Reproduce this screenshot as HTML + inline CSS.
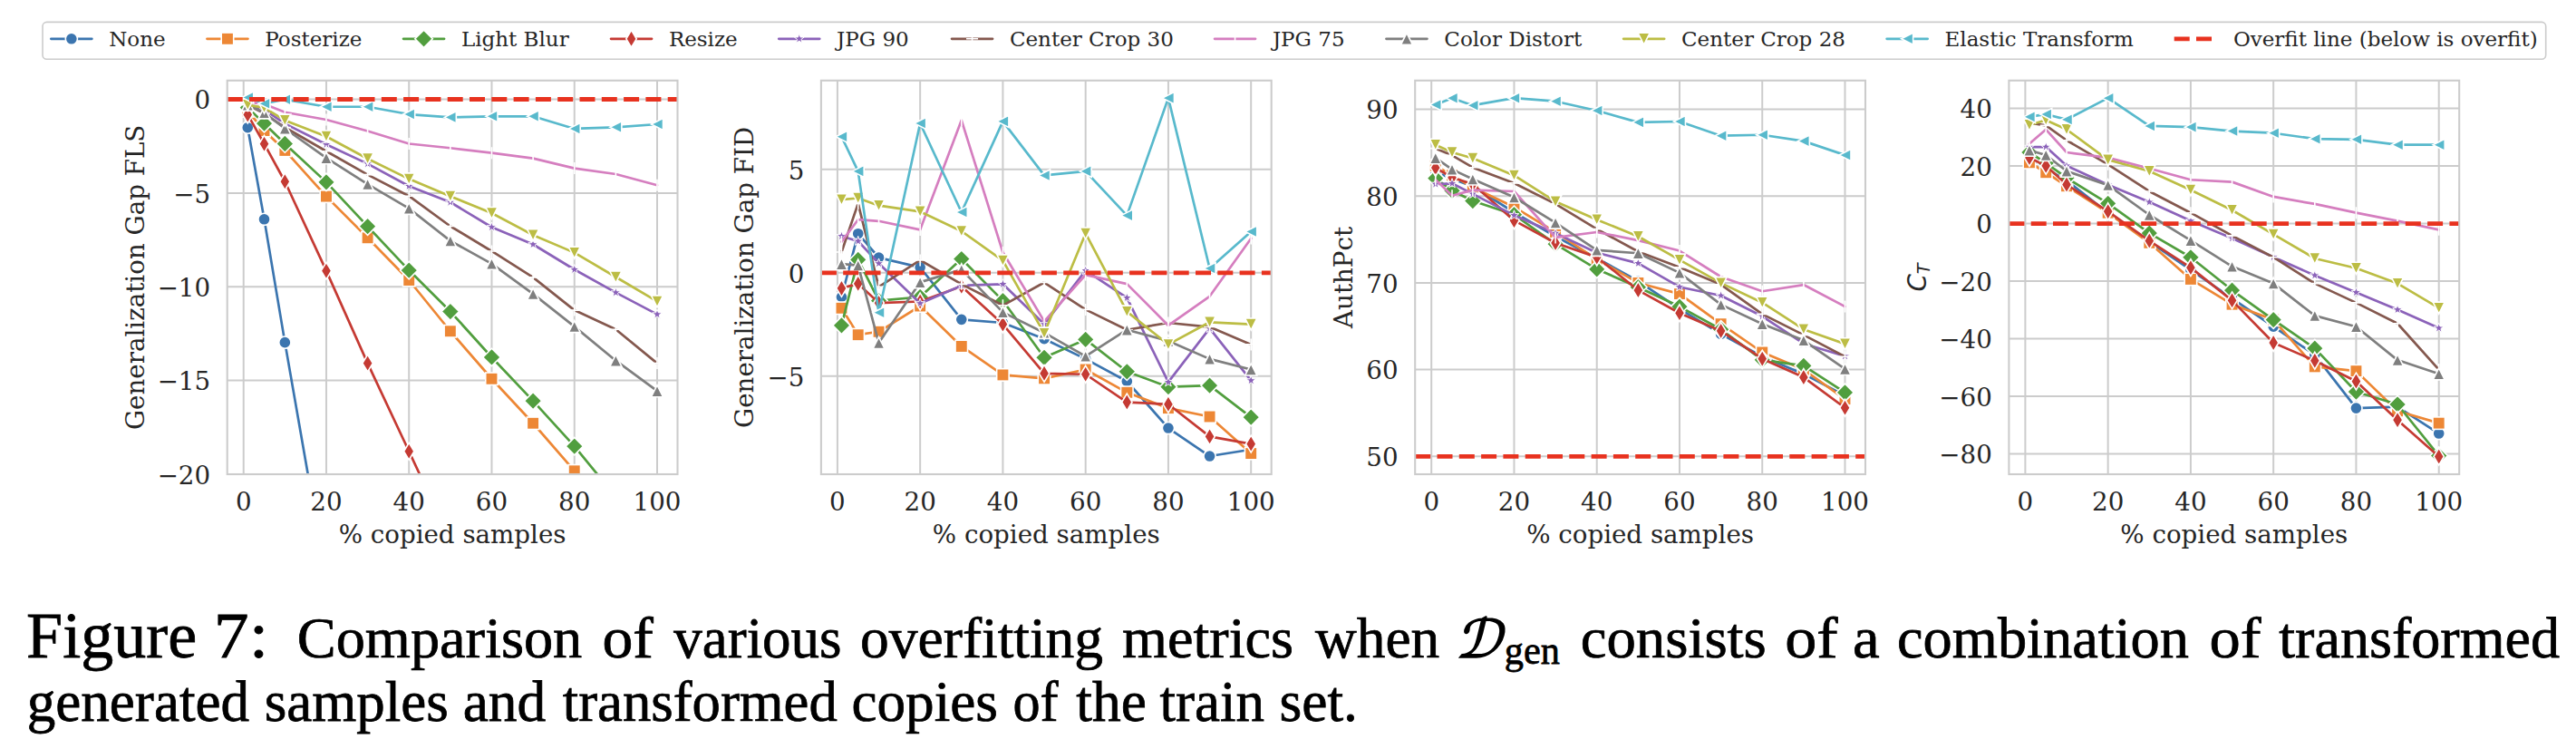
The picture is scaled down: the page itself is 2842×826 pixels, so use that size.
<!DOCTYPE html>
<html><head><meta charset="utf-8"><title>Figure 7</title>
<style>
html,body{margin:0;padding:0;background:#fff;}
body{width:2842px;height:826px;position:relative;overflow:hidden;}
</style></head>
<body>
<svg width="2842" height="826" viewBox="0 0 2842 826" style="position:absolute;left:0;top:0">
<defs>
<clipPath id="c1"><rect x="250.7" y="88.8" width="496.8" height="434.2"/></clipPath>
<clipPath id="c2"><rect x="905.9" y="88.8" width="496.8" height="434.2"/></clipPath>
<clipPath id="c3"><rect x="1561.2" y="88.8" width="496.8" height="434.2"/></clipPath>
<clipPath id="c4"><rect x="2216.4" y="88.8" width="496.8" height="434.2"/></clipPath>
</defs>
<g font-family="DejaVu Serif, serif" fill="#262626">
<path d="M268.7 88.8V523.0M359.96 88.8V523.0M451.22 88.8V523.0M542.48 88.8V523.0M633.74 88.8V523.0M725 88.8V523.0M250.7 109.5H747.5M250.7 212.88H747.5M250.7 316.25H747.5M250.7 419.62H747.5M250.7 523H747.5" stroke="#cccccc" stroke-width="2" fill="none"/>
<g clip-path="url(#c1)">
<polyline points="273.26,140.72 291.51,241.82 314.33,377.65 359.96,638.78 405.59,895.15 451.22,1143.25 496.85,1391.35 542.48,1639.45 588.11,1887.55 633.74,2135.65 679.37,2383.75 725,2631.85" fill="none" stroke="#3b75af" stroke-width="2.7" stroke-linejoin="round" stroke-linecap="round"/>
<circle cx="273.26" cy="140.72" r="6.6" fill="#3b75af" stroke="#fff" stroke-width="1.6"/>
<circle cx="291.51" cy="241.82" r="6.6" fill="#3b75af" stroke="#fff" stroke-width="1.6"/>
<circle cx="314.33" cy="377.65" r="6.6" fill="#3b75af" stroke="#fff" stroke-width="1.6"/>
<polyline points="273.26,122.32 291.51,144.03 314.33,165.94 359.96,216.6 405.59,262.29 451.22,309.01 496.85,365.25 542.48,417.76 588.11,466.76 633.74,519.28 679.37,570.55 725,620.17" fill="none" stroke="#ed8735" stroke-width="2.7" stroke-linejoin="round" stroke-linecap="round"/>
<rect x="266.51" y="115.57" width="13.5" height="13.5" fill="#ed8735" stroke="#fff" stroke-width="1.6"/>
<rect x="284.76" y="137.28" width="13.5" height="13.5" fill="#ed8735" stroke="#fff" stroke-width="1.6"/>
<rect x="307.58" y="159.19" width="13.5" height="13.5" fill="#ed8735" stroke="#fff" stroke-width="1.6"/>
<rect x="353.21" y="209.85" width="13.5" height="13.5" fill="#ed8735" stroke="#fff" stroke-width="1.6"/>
<rect x="398.84" y="255.54" width="13.5" height="13.5" fill="#ed8735" stroke="#fff" stroke-width="1.6"/>
<rect x="444.47" y="302.26" width="13.5" height="13.5" fill="#ed8735" stroke="#fff" stroke-width="1.6"/>
<rect x="490.1" y="358.5" width="13.5" height="13.5" fill="#ed8735" stroke="#fff" stroke-width="1.6"/>
<rect x="535.73" y="411.01" width="13.5" height="13.5" fill="#ed8735" stroke="#fff" stroke-width="1.6"/>
<rect x="581.36" y="460.01" width="13.5" height="13.5" fill="#ed8735" stroke="#fff" stroke-width="1.6"/>
<rect x="626.99" y="512.53" width="13.5" height="13.5" fill="#ed8735" stroke="#fff" stroke-width="1.6"/>
<polyline points="273.26,118.6 291.51,136.17 314.33,158.5 359.96,200.88 405.59,249.68 451.22,298.06 496.85,343.54 542.48,393.99 588.11,442.16 633.74,492.19 679.37,547.81 725,603.63" fill="none" stroke="#519e3e" stroke-width="2.7" stroke-linejoin="round" stroke-linecap="round"/>
<polygon points="273.26,108.9 282.96,118.6 273.26,128.3 263.56,118.6" fill="#519e3e" stroke="#fff" stroke-width="1.6"/>
<polygon points="291.51,126.47 301.21,136.17 291.51,145.87 281.81,136.17" fill="#519e3e" stroke="#fff" stroke-width="1.6"/>
<polygon points="314.33,148.8 324.03,158.5 314.33,168.2 304.63,158.5" fill="#519e3e" stroke="#fff" stroke-width="1.6"/>
<polygon points="359.96,191.18 369.66,200.88 359.96,210.58 350.26,200.88" fill="#519e3e" stroke="#fff" stroke-width="1.6"/>
<polygon points="405.59,239.98 415.29,249.68 405.59,259.38 395.89,249.68" fill="#519e3e" stroke="#fff" stroke-width="1.6"/>
<polygon points="451.22,288.36 460.92,298.06 451.22,307.76 441.52,298.06" fill="#519e3e" stroke="#fff" stroke-width="1.6"/>
<polygon points="496.85,333.84 506.55,343.54 496.85,353.24 487.15,343.54" fill="#519e3e" stroke="#fff" stroke-width="1.6"/>
<polygon points="542.48,384.29 552.18,393.99 542.48,403.69 532.78,393.99" fill="#519e3e" stroke="#fff" stroke-width="1.6"/>
<polygon points="588.11,432.46 597.81,442.16 588.11,451.86 578.41,442.16" fill="#519e3e" stroke="#fff" stroke-width="1.6"/>
<polygon points="633.74,482.49 643.44,492.19 633.74,501.89 624.04,492.19" fill="#519e3e" stroke="#fff" stroke-width="1.6"/>
<polyline points="273.26,126.45 291.51,158.71 314.33,200.26 359.96,298.68 405.59,400.6 451.22,497.78 496.85,595.36 542.48,692.53 588.11,791.77 633.74,888.95 679.37,988.19 725,1085.36" fill="none" stroke="#c53a33" stroke-width="2.7" stroke-linejoin="round" stroke-linecap="round"/>
<polygon points="273.26,117.05 278.96,126.45 273.26,135.85 267.56,126.45" fill="#c53a33" stroke="#fff" stroke-width="1.6"/>
<polygon points="291.51,149.31 297.21,158.71 291.51,168.11 285.81,158.71" fill="#c53a33" stroke="#fff" stroke-width="1.6"/>
<polygon points="314.33,190.86 320.03,200.26 314.33,209.66 308.63,200.26" fill="#c53a33" stroke="#fff" stroke-width="1.6"/>
<polygon points="359.96,289.28 365.66,298.68 359.96,308.08 354.26,298.68" fill="#c53a33" stroke="#fff" stroke-width="1.6"/>
<polygon points="405.59,391.2 411.29,400.6 405.59,410 399.89,400.6" fill="#c53a33" stroke="#fff" stroke-width="1.6"/>
<polygon points="451.22,488.38 456.92,497.78 451.22,507.18 445.52,497.78" fill="#c53a33" stroke="#fff" stroke-width="1.6"/>
<polyline points="273.26,114.67 291.51,120.87 314.33,136.38 359.96,159.33 405.59,180.62 451.22,205.23 496.85,223.01 542.48,250.5 588.11,269.52 633.74,297.23 679.37,322.66 725,346.64" fill="none" stroke="#8b62b9" stroke-width="2.7" stroke-linejoin="round" stroke-linecap="round"/>
<polygon points="273.26,109.07 274.61,112.81 278.59,112.94 275.45,115.38 276.55,119.2 273.26,116.97 269.97,119.2 271.08,115.38 267.94,112.94 271.91,112.81" fill="#8b62b9" stroke="#fff" stroke-width="1.0"/>
<polygon points="291.51,115.27 292.87,119.01 296.84,119.14 293.7,121.58 294.81,125.4 291.51,123.17 288.22,125.4 289.33,121.58 286.19,119.14 290.16,119.01" fill="#8b62b9" stroke="#fff" stroke-width="1.0"/>
<polygon points="314.33,130.78 315.68,134.52 319.66,134.65 316.52,137.09 317.62,140.91 314.33,138.68 311.04,140.91 312.14,137.09 309,134.65 312.98,134.52" fill="#8b62b9" stroke="#fff" stroke-width="1.0"/>
<polygon points="359.96,153.73 361.31,157.47 365.29,157.6 362.15,160.04 363.25,163.86 359.96,161.63 356.67,163.86 357.77,160.04 354.63,157.6 358.61,157.47" fill="#8b62b9" stroke="#fff" stroke-width="1.0"/>
<polygon points="405.59,175.02 406.94,178.76 410.92,178.89 407.78,181.33 408.88,185.15 405.59,182.92 402.3,185.15 403.4,181.33 400.26,178.89 404.24,178.76" fill="#8b62b9" stroke="#fff" stroke-width="1.0"/>
<polygon points="451.22,199.63 452.57,203.36 456.55,203.49 453.41,205.94 454.51,209.76 451.22,207.53 447.93,209.76 449.03,205.94 445.89,203.49 449.87,203.36" fill="#8b62b9" stroke="#fff" stroke-width="1.0"/>
<polygon points="496.85,217.41 498.2,221.15 502.18,221.28 499.04,223.72 500.14,227.54 496.85,225.31 493.56,227.54 494.66,223.72 491.52,221.28 495.5,221.15" fill="#8b62b9" stroke="#fff" stroke-width="1.0"/>
<polygon points="542.48,244.9 543.83,248.64 547.81,248.77 544.67,251.21 545.77,255.03 542.48,252.8 539.19,255.03 540.29,251.21 537.15,248.77 541.13,248.64" fill="#8b62b9" stroke="#fff" stroke-width="1.0"/>
<polygon points="588.11,263.92 589.46,267.66 593.44,267.79 590.3,270.24 591.4,274.05 588.11,271.82 584.82,274.05 585.92,270.24 582.78,267.79 586.76,267.66" fill="#8b62b9" stroke="#fff" stroke-width="1.0"/>
<polygon points="633.74,291.63 635.09,295.37 639.07,295.5 635.93,297.94 637.03,301.76 633.74,299.53 630.45,301.76 631.55,297.94 628.41,295.5 632.39,295.37" fill="#8b62b9" stroke="#fff" stroke-width="1.0"/>
<polygon points="679.37,317.06 680.72,320.8 684.7,320.93 681.56,323.37 682.66,327.19 679.37,324.96 676.08,327.19 677.18,323.37 674.04,320.93 678.02,320.8" fill="#8b62b9" stroke="#fff" stroke-width="1.0"/>
<polygon points="725,341.04 726.35,344.78 730.33,344.91 727.19,347.35 728.29,351.17 725,348.94 721.71,351.17 722.81,347.35 719.67,344.91 723.65,344.78" fill="#8b62b9" stroke="#fff" stroke-width="1.0"/>
<polyline points="273.26,115.7 291.51,125.01 314.33,140.51 359.96,166.77 405.59,192.61 451.22,216.18 496.85,249.47 542.48,276.97 588.11,305.91 633.74,342.09 679.37,363.18 725,400.6" fill="none" stroke="#84584e" stroke-width="2.7" stroke-linejoin="round" stroke-linecap="round"/>
<path d="M266.76 115.7H279.76M273.26 109.2V122.2" stroke="#fff" stroke-width="1.6" fill="none"/>
<path d="M285.01 125.01H298.01M291.51 118.51V131.51" stroke="#fff" stroke-width="1.6" fill="none"/>
<path d="M307.83 140.51H320.83M314.33 134.01V147.01" stroke="#fff" stroke-width="1.6" fill="none"/>
<path d="M353.46 166.77H366.46M359.96 160.27V173.27" stroke="#fff" stroke-width="1.6" fill="none"/>
<path d="M399.09 192.61H412.09M405.59 186.11V199.11" stroke="#fff" stroke-width="1.6" fill="none"/>
<path d="M444.72 216.18H457.72M451.22 209.68V222.68" stroke="#fff" stroke-width="1.6" fill="none"/>
<path d="M490.35 249.47H503.35M496.85 242.97V255.97" stroke="#fff" stroke-width="1.6" fill="none"/>
<path d="M535.98 276.97H548.98M542.48 270.47V283.47" stroke="#fff" stroke-width="1.6" fill="none"/>
<path d="M581.61 305.91H594.61M588.11 299.41V312.41" stroke="#fff" stroke-width="1.6" fill="none"/>
<path d="M627.24 342.09H640.24M633.74 335.59V348.59" stroke="#fff" stroke-width="1.6" fill="none"/>
<path d="M672.87 363.18H685.87M679.37 356.68V369.68" stroke="#fff" stroke-width="1.6" fill="none"/>
<path d="M718.5 400.6H731.5M725 394.1V407.1" stroke="#fff" stroke-width="1.6" fill="none"/>
<polyline points="273.26,112.6 291.51,114.67 314.33,123.77 359.96,132.04 405.59,144.44 451.22,158.5 496.85,163.25 542.48,168.63 588.11,174.63 633.74,185.58 679.37,191.99 725,204.19" fill="none" stroke="#d57ebf" stroke-width="2.7" stroke-linejoin="round" stroke-linecap="round"/>
<path d="M273.26 106.1V119.1" stroke="#fff" stroke-width="1.6" fill="none"/>
<path d="M291.51 108.17V121.17" stroke="#fff" stroke-width="1.6" fill="none"/>
<path d="M314.33 117.27V130.27" stroke="#fff" stroke-width="1.6" fill="none"/>
<path d="M359.96 125.54V138.54" stroke="#fff" stroke-width="1.6" fill="none"/>
<path d="M405.59 137.94V150.94" stroke="#fff" stroke-width="1.6" fill="none"/>
<path d="M451.22 152V165" stroke="#fff" stroke-width="1.6" fill="none"/>
<path d="M496.85 156.75V169.75" stroke="#fff" stroke-width="1.6" fill="none"/>
<path d="M542.48 162.13V175.13" stroke="#fff" stroke-width="1.6" fill="none"/>
<path d="M588.11 168.13V181.13" stroke="#fff" stroke-width="1.6" fill="none"/>
<path d="M633.74 179.08V192.08" stroke="#fff" stroke-width="1.6" fill="none"/>
<path d="M679.37 185.49V198.49" stroke="#fff" stroke-width="1.6" fill="none"/>
<path d="M725 197.69V210.69" stroke="#fff" stroke-width="1.6" fill="none"/>
<polyline points="273.26,115.7 291.51,124.39 314.33,141.75 359.96,174.21 405.59,203.16 451.22,229.83 496.85,265.6 542.48,290.82 588.11,324.11 633.74,360.08 679.37,397.71 725,431.2" fill="none" stroke="#7f7f7f" stroke-width="2.7" stroke-linejoin="round" stroke-linecap="round"/>
<polygon points="273.26,109.2 279.76,122.2 266.76,122.2" fill="#7f7f7f" stroke="#fff" stroke-width="1.6"/>
<polygon points="291.51,117.89 298.01,130.89 285.01,130.89" fill="#7f7f7f" stroke="#fff" stroke-width="1.6"/>
<polygon points="314.33,135.25 320.83,148.25 307.83,148.25" fill="#7f7f7f" stroke="#fff" stroke-width="1.6"/>
<polygon points="359.96,167.71 366.46,180.71 353.46,180.71" fill="#7f7f7f" stroke="#fff" stroke-width="1.6"/>
<polygon points="405.59,196.66 412.09,209.66 399.09,209.66" fill="#7f7f7f" stroke="#fff" stroke-width="1.6"/>
<polygon points="451.22,223.33 457.72,236.33 444.72,236.33" fill="#7f7f7f" stroke="#fff" stroke-width="1.6"/>
<polygon points="496.85,259.1 503.35,272.1 490.35,272.1" fill="#7f7f7f" stroke="#fff" stroke-width="1.6"/>
<polygon points="542.48,284.32 548.98,297.32 535.98,297.32" fill="#7f7f7f" stroke="#fff" stroke-width="1.6"/>
<polygon points="588.11,317.61 594.61,330.61 581.61,330.61" fill="#7f7f7f" stroke="#fff" stroke-width="1.6"/>
<polygon points="633.74,353.58 640.24,366.58 627.24,366.58" fill="#7f7f7f" stroke="#fff" stroke-width="1.6"/>
<polygon points="679.37,391.21 685.87,404.21 672.87,404.21" fill="#7f7f7f" stroke="#fff" stroke-width="1.6"/>
<polygon points="725,424.7 731.5,437.7 718.5,437.7" fill="#7f7f7f" stroke="#fff" stroke-width="1.6"/>
<polyline points="273.26,115.7 291.51,118.8 314.33,132.66 359.96,150.44 405.59,175.04 451.22,197.37 496.85,216.39 542.48,235 588.11,259.19 633.74,278.62 679.37,305.5 725,332.38" fill="none" stroke="#bcbd44" stroke-width="2.7" stroke-linejoin="round" stroke-linecap="round"/>
<polygon points="273.26,122.2 279.76,109.2 266.76,109.2" fill="#bcbd44" stroke="#fff" stroke-width="1.6"/>
<polygon points="291.51,125.3 298.01,112.3 285.01,112.3" fill="#bcbd44" stroke="#fff" stroke-width="1.6"/>
<polygon points="314.33,139.16 320.83,126.16 307.83,126.16" fill="#bcbd44" stroke="#fff" stroke-width="1.6"/>
<polygon points="359.96,156.94 366.46,143.94 353.46,143.94" fill="#bcbd44" stroke="#fff" stroke-width="1.6"/>
<polygon points="405.59,181.54 412.09,168.54 399.09,168.54" fill="#bcbd44" stroke="#fff" stroke-width="1.6"/>
<polygon points="451.22,203.87 457.72,190.87 444.72,190.87" fill="#bcbd44" stroke="#fff" stroke-width="1.6"/>
<polygon points="496.85,222.89 503.35,209.89 490.35,209.89" fill="#bcbd44" stroke="#fff" stroke-width="1.6"/>
<polygon points="542.48,241.5 548.98,228.5 535.98,228.5" fill="#bcbd44" stroke="#fff" stroke-width="1.6"/>
<polygon points="588.11,265.69 594.61,252.69 581.61,252.69" fill="#bcbd44" stroke="#fff" stroke-width="1.6"/>
<polygon points="633.74,285.12 640.24,272.12 627.24,272.12" fill="#bcbd44" stroke="#fff" stroke-width="1.6"/>
<polygon points="679.37,312 685.87,299 672.87,299" fill="#bcbd44" stroke="#fff" stroke-width="1.6"/>
<polygon points="725,338.88 731.5,325.88 718.5,325.88" fill="#bcbd44" stroke="#fff" stroke-width="1.6"/>
<polyline points="273.26,107.43 291.51,114.26 314.33,109.71 359.96,117.77 405.59,117.77 451.22,126.04 496.85,129.35 542.48,128.31 588.11,128.31 633.74,141.96 679.37,140.31 725,137" fill="none" stroke="#58b9cc" stroke-width="2.7" stroke-linejoin="round" stroke-linecap="round"/>
<polygon points="266.76,107.43 279.76,100.93 279.76,113.93" fill="#58b9cc" stroke="#fff" stroke-width="1.6"/>
<polygon points="285.01,114.26 298.01,107.76 298.01,120.76" fill="#58b9cc" stroke="#fff" stroke-width="1.6"/>
<polygon points="307.83,109.71 320.83,103.21 320.83,116.21" fill="#58b9cc" stroke="#fff" stroke-width="1.6"/>
<polygon points="353.46,117.77 366.46,111.27 366.46,124.27" fill="#58b9cc" stroke="#fff" stroke-width="1.6"/>
<polygon points="399.09,117.77 412.09,111.27 412.09,124.27" fill="#58b9cc" stroke="#fff" stroke-width="1.6"/>
<polygon points="444.72,126.04 457.72,119.54 457.72,132.54" fill="#58b9cc" stroke="#fff" stroke-width="1.6"/>
<polygon points="490.35,129.35 503.35,122.85 503.35,135.85" fill="#58b9cc" stroke="#fff" stroke-width="1.6"/>
<polygon points="535.98,128.31 548.98,121.81 548.98,134.81" fill="#58b9cc" stroke="#fff" stroke-width="1.6"/>
<polygon points="581.61,128.31 594.61,121.81 594.61,134.81" fill="#58b9cc" stroke="#fff" stroke-width="1.6"/>
<polygon points="627.24,141.96 640.24,135.46 640.24,148.46" fill="#58b9cc" stroke="#fff" stroke-width="1.6"/>
<polygon points="672.87,140.31 685.87,133.81 685.87,146.81" fill="#58b9cc" stroke="#fff" stroke-width="1.6"/>
<polygon points="718.5,137 731.5,130.5 731.5,143.5" fill="#58b9cc" stroke="#fff" stroke-width="1.6"/>
<path d="M250.7 109.5H747.5" stroke="#e8321f" stroke-width="4.8" stroke-dasharray="17 7.3" fill="none"/>
</g>
<rect x="250.7" y="88.8" width="496.8" height="434.2" fill="none" stroke="#cccccc" stroke-width="2.1"/>
<text x="232.1" y="120.3" font-size="27.7" text-anchor="end">0</text>
<text x="232.1" y="223.68" font-size="27.7" text-anchor="end">−5</text>
<text x="232.1" y="327.05" font-size="27.7" text-anchor="end">−10</text>
<text x="232.1" y="430.43" font-size="27.7" text-anchor="end">−15</text>
<text x="232.1" y="533.8" font-size="27.7" text-anchor="end">−20</text>
<text x="268.7" y="563" font-size="27.7" text-anchor="middle">0</text>
<text x="359.96" y="563" font-size="27.7" text-anchor="middle">20</text>
<text x="451.22" y="563" font-size="27.7" text-anchor="middle">40</text>
<text x="542.48" y="563" font-size="27.7" text-anchor="middle">60</text>
<text x="633.74" y="563" font-size="27.7" text-anchor="middle">80</text>
<text x="725" y="563" font-size="27.7" text-anchor="middle">100</text>
<text x="499.1" y="599.1" font-size="27.7" text-anchor="middle">% copied samples</text>
<text transform="translate(158.5 305.9) rotate(-90)" font-size="27.7" text-anchor="middle">Generalization Gap FLS</text>
<path d="M923.9 88.8V523.0M1015.16 88.8V523.0M1106.42 88.8V523.0M1197.68 88.8V523.0M1288.94 88.8V523.0M1380.2 88.8V523.0M905.9 186.8H1402.7M905.9 300.8H1402.7M905.9 414.8H1402.7" stroke="#cccccc" stroke-width="2" fill="none"/>
<g clip-path="url(#c2)">
<polyline points="928.46,327.48 946.71,257.71 969.53,284.16 1015.16,294.87 1060.79,352.33 1106.42,355.98 1152.05,373.76 1197.68,395.88 1243.31,420.5 1288.94,472.03 1334.57,503.04 1380.2,495.74" fill="none" stroke="#3b75af" stroke-width="2.7" stroke-linejoin="round" stroke-linecap="round"/>
<circle cx="928.46" cy="327.48" r="6.6" fill="#3b75af" stroke="#fff" stroke-width="1.6"/>
<circle cx="946.71" cy="257.71" r="6.6" fill="#3b75af" stroke="#fff" stroke-width="1.6"/>
<circle cx="969.53" cy="284.16" r="6.6" fill="#3b75af" stroke="#fff" stroke-width="1.6"/>
<circle cx="1015.16" cy="294.87" r="6.6" fill="#3b75af" stroke="#fff" stroke-width="1.6"/>
<circle cx="1060.79" cy="352.33" r="6.6" fill="#3b75af" stroke="#fff" stroke-width="1.6"/>
<circle cx="1106.42" cy="355.98" r="6.6" fill="#3b75af" stroke="#fff" stroke-width="1.6"/>
<circle cx="1152.05" cy="373.76" r="6.6" fill="#3b75af" stroke="#fff" stroke-width="1.6"/>
<circle cx="1197.68" cy="395.88" r="6.6" fill="#3b75af" stroke="#fff" stroke-width="1.6"/>
<circle cx="1243.31" cy="420.5" r="6.6" fill="#3b75af" stroke="#fff" stroke-width="1.6"/>
<circle cx="1288.94" cy="472.03" r="6.6" fill="#3b75af" stroke="#fff" stroke-width="1.6"/>
<circle cx="1334.57" cy="503.04" r="6.6" fill="#3b75af" stroke="#fff" stroke-width="1.6"/>
<circle cx="1380.2" cy="495.74" r="6.6" fill="#3b75af" stroke="#fff" stroke-width="1.6"/>
<polyline points="928.46,339.79 946.71,369.2 969.53,365.78 1015.16,337.51 1060.79,381.97 1106.42,413.43 1152.05,417.31 1197.68,407.5 1243.31,432.81 1288.94,450.14 1334.57,459.49 1380.2,500.07" fill="none" stroke="#ed8735" stroke-width="2.7" stroke-linejoin="round" stroke-linecap="round"/>
<rect x="921.71" y="333.04" width="13.5" height="13.5" fill="#ed8735" stroke="#fff" stroke-width="1.6"/>
<rect x="939.96" y="362.45" width="13.5" height="13.5" fill="#ed8735" stroke="#fff" stroke-width="1.6"/>
<rect x="962.78" y="359.03" width="13.5" height="13.5" fill="#ed8735" stroke="#fff" stroke-width="1.6"/>
<rect x="1008.41" y="330.76" width="13.5" height="13.5" fill="#ed8735" stroke="#fff" stroke-width="1.6"/>
<rect x="1054.04" y="375.22" width="13.5" height="13.5" fill="#ed8735" stroke="#fff" stroke-width="1.6"/>
<rect x="1099.67" y="406.68" width="13.5" height="13.5" fill="#ed8735" stroke="#fff" stroke-width="1.6"/>
<rect x="1145.3" y="410.56" width="13.5" height="13.5" fill="#ed8735" stroke="#fff" stroke-width="1.6"/>
<rect x="1190.93" y="400.75" width="13.5" height="13.5" fill="#ed8735" stroke="#fff" stroke-width="1.6"/>
<rect x="1236.56" y="426.06" width="13.5" height="13.5" fill="#ed8735" stroke="#fff" stroke-width="1.6"/>
<rect x="1282.19" y="443.39" width="13.5" height="13.5" fill="#ed8735" stroke="#fff" stroke-width="1.6"/>
<rect x="1327.82" y="452.74" width="13.5" height="13.5" fill="#ed8735" stroke="#fff" stroke-width="1.6"/>
<rect x="1373.45" y="493.32" width="13.5" height="13.5" fill="#ed8735" stroke="#fff" stroke-width="1.6"/>
<polyline points="928.46,358.94 946.71,286.44 969.53,331.58 1015.16,327.48 1060.79,285.52 1106.42,331.58 1152.05,394.28 1197.68,374.44 1243.31,409.78 1288.94,426.66 1334.57,425.06 1380.2,460.17" fill="none" stroke="#519e3e" stroke-width="2.7" stroke-linejoin="round" stroke-linecap="round"/>
<polygon points="928.46,349.24 938.16,358.94 928.46,368.64 918.76,358.94" fill="#519e3e" stroke="#fff" stroke-width="1.6"/>
<polygon points="946.71,276.74 956.41,286.44 946.71,296.14 937.01,286.44" fill="#519e3e" stroke="#fff" stroke-width="1.6"/>
<polygon points="969.53,321.88 979.23,331.58 969.53,341.28 959.83,331.58" fill="#519e3e" stroke="#fff" stroke-width="1.6"/>
<polygon points="1015.16,317.78 1024.86,327.48 1015.16,337.18 1005.46,327.48" fill="#519e3e" stroke="#fff" stroke-width="1.6"/>
<polygon points="1060.79,275.82 1070.49,285.52 1060.79,295.22 1051.09,285.52" fill="#519e3e" stroke="#fff" stroke-width="1.6"/>
<polygon points="1106.42,321.88 1116.12,331.58 1106.42,341.28 1096.72,331.58" fill="#519e3e" stroke="#fff" stroke-width="1.6"/>
<polygon points="1152.05,384.58 1161.75,394.28 1152.05,403.98 1142.35,394.28" fill="#519e3e" stroke="#fff" stroke-width="1.6"/>
<polygon points="1197.68,364.74 1207.38,374.44 1197.68,384.14 1187.98,374.44" fill="#519e3e" stroke="#fff" stroke-width="1.6"/>
<polygon points="1243.31,400.08 1253.01,409.78 1243.31,419.48 1233.61,409.78" fill="#519e3e" stroke="#fff" stroke-width="1.6"/>
<polygon points="1288.94,416.96 1298.64,426.66 1288.94,436.36 1279.24,426.66" fill="#519e3e" stroke="#fff" stroke-width="1.6"/>
<polygon points="1334.57,415.36 1344.27,425.06 1334.57,434.76 1324.87,425.06" fill="#519e3e" stroke="#fff" stroke-width="1.6"/>
<polygon points="1380.2,450.47 1389.9,460.17 1380.2,469.87 1370.5,460.17" fill="#519e3e" stroke="#fff" stroke-width="1.6"/>
<polyline points="928.46,317.9 946.71,312.88 969.53,334.09 1015.16,332.49 1060.79,315.85 1106.42,357.57 1152.05,411.84 1197.68,412.75 1243.31,443.53 1288.94,445.81 1334.57,481.38 1380.2,489.58" fill="none" stroke="#c53a33" stroke-width="2.7" stroke-linejoin="round" stroke-linecap="round"/>
<polygon points="928.46,308.5 934.16,317.9 928.46,327.3 922.76,317.9" fill="#c53a33" stroke="#fff" stroke-width="1.6"/>
<polygon points="946.71,303.48 952.41,312.88 946.71,322.28 941.01,312.88" fill="#c53a33" stroke="#fff" stroke-width="1.6"/>
<polygon points="969.53,324.69 975.23,334.09 969.53,343.49 963.83,334.09" fill="#c53a33" stroke="#fff" stroke-width="1.6"/>
<polygon points="1015.16,323.09 1020.86,332.49 1015.16,341.89 1009.46,332.49" fill="#c53a33" stroke="#fff" stroke-width="1.6"/>
<polygon points="1060.79,306.45 1066.49,315.85 1060.79,325.25 1055.09,315.85" fill="#c53a33" stroke="#fff" stroke-width="1.6"/>
<polygon points="1106.42,348.17 1112.12,357.57 1106.42,366.97 1100.72,357.57" fill="#c53a33" stroke="#fff" stroke-width="1.6"/>
<polygon points="1152.05,402.44 1157.75,411.84 1152.05,421.24 1146.35,411.84" fill="#c53a33" stroke="#fff" stroke-width="1.6"/>
<polygon points="1197.68,403.35 1203.38,412.75 1197.68,422.15 1191.98,412.75" fill="#c53a33" stroke="#fff" stroke-width="1.6"/>
<polygon points="1243.31,434.13 1249.01,443.53 1243.31,452.93 1237.61,443.53" fill="#c53a33" stroke="#fff" stroke-width="1.6"/>
<polygon points="1288.94,436.41 1294.64,445.81 1288.94,455.21 1283.24,445.81" fill="#c53a33" stroke="#fff" stroke-width="1.6"/>
<polygon points="1334.57,471.98 1340.27,481.38 1334.57,490.78 1328.87,481.38" fill="#c53a33" stroke="#fff" stroke-width="1.6"/>
<polygon points="1380.2,480.18 1385.9,489.58 1380.2,498.98 1374.5,489.58" fill="#c53a33" stroke="#fff" stroke-width="1.6"/>
<polyline points="928.46,260.44 946.71,265.92 969.53,290.54 1015.16,334.54 1060.79,314.94 1106.42,313.34 1152.05,357.57 1197.68,298.29 1243.31,328.39 1288.94,421.41 1334.57,362.13 1380.2,419.59" fill="none" stroke="#8b62b9" stroke-width="2.7" stroke-linejoin="round" stroke-linecap="round"/>
<polygon points="928.46,254.84 929.81,258.58 933.79,258.71 930.65,261.15 931.75,264.97 928.46,262.74 925.17,264.97 926.28,261.15 923.14,258.71 927.11,258.58" fill="#8b62b9" stroke="#fff" stroke-width="1.0"/>
<polygon points="946.71,260.32 948.07,264.06 952.04,264.19 948.9,266.63 950.01,270.45 946.71,268.22 943.42,270.45 944.53,266.63 941.39,264.19 945.36,264.06" fill="#8b62b9" stroke="#fff" stroke-width="1.0"/>
<polygon points="969.53,284.94 970.88,288.68 974.86,288.81 971.72,291.25 972.82,295.07 969.53,292.84 966.24,295.07 967.34,291.25 964.2,288.81 968.18,288.68" fill="#8b62b9" stroke="#fff" stroke-width="1.0"/>
<polygon points="1015.16,328.94 1016.51,332.68 1020.49,332.81 1017.35,335.25 1018.45,339.07 1015.16,336.84 1011.87,339.07 1012.97,335.25 1009.83,332.81 1013.81,332.68" fill="#8b62b9" stroke="#fff" stroke-width="1.0"/>
<polygon points="1060.79,309.34 1062.14,313.08 1066.12,313.21 1062.98,315.65 1064.08,319.47 1060.79,317.24 1057.5,319.47 1058.6,315.65 1055.46,313.21 1059.44,313.08" fill="#8b62b9" stroke="#fff" stroke-width="1.0"/>
<polygon points="1106.42,307.74 1107.77,311.48 1111.75,311.61 1108.61,314.05 1109.71,317.87 1106.42,315.64 1103.13,317.87 1104.23,314.05 1101.09,311.61 1105.07,311.48" fill="#8b62b9" stroke="#fff" stroke-width="1.0"/>
<polygon points="1152.05,351.97 1153.4,355.71 1157.38,355.84 1154.24,358.28 1155.34,362.1 1152.05,359.87 1148.76,362.1 1149.86,358.28 1146.72,355.84 1150.7,355.71" fill="#8b62b9" stroke="#fff" stroke-width="1.0"/>
<polygon points="1197.68,292.69 1199.03,296.43 1203.01,296.56 1199.87,299 1200.97,302.82 1197.68,300.59 1194.39,302.82 1195.49,299 1192.35,296.56 1196.33,296.43" fill="#8b62b9" stroke="#fff" stroke-width="1.0"/>
<polygon points="1243.31,322.79 1244.66,326.53 1248.64,326.66 1245.5,329.1 1246.6,332.92 1243.31,330.69 1240.02,332.92 1241.12,329.1 1237.98,326.66 1241.96,326.53" fill="#8b62b9" stroke="#fff" stroke-width="1.0"/>
<polygon points="1288.94,415.81 1290.29,419.55 1294.27,419.68 1291.13,422.12 1292.23,425.94 1288.94,423.71 1285.65,425.94 1286.75,422.12 1283.61,419.68 1287.59,419.55" fill="#8b62b9" stroke="#fff" stroke-width="1.0"/>
<polygon points="1334.57,356.53 1335.92,360.27 1339.9,360.4 1336.76,362.84 1337.86,366.66 1334.57,364.43 1331.28,366.66 1332.38,362.84 1329.24,360.4 1333.22,360.27" fill="#8b62b9" stroke="#fff" stroke-width="1.0"/>
<polygon points="1380.2,413.99 1381.55,417.73 1385.53,417.86 1382.39,420.3 1383.49,424.12 1380.2,421.89 1376.91,424.12 1378.01,420.3 1374.87,417.86 1378.85,417.73" fill="#8b62b9" stroke="#fff" stroke-width="1.0"/>
<polyline points="928.46,278 946.71,224.42 969.53,316.3 1015.16,286.89 1060.79,313.34 1106.42,336.82 1152.05,311.52 1197.68,341.38 1243.31,363.73 1288.94,355.98 1334.57,360.54 1380.2,379.92" fill="none" stroke="#84584e" stroke-width="2.7" stroke-linejoin="round" stroke-linecap="round"/>
<path d="M921.96 278H934.96M928.46 271.5V284.5" stroke="#fff" stroke-width="1.6" fill="none"/>
<path d="M940.21 224.42H953.21M946.71 217.92V230.92" stroke="#fff" stroke-width="1.6" fill="none"/>
<path d="M963.03 316.3H976.03M969.53 309.8V322.8" stroke="#fff" stroke-width="1.6" fill="none"/>
<path d="M1008.66 286.89H1021.66M1015.16 280.39V293.39" stroke="#fff" stroke-width="1.6" fill="none"/>
<path d="M1054.29 313.34H1067.29M1060.79 306.84V319.84" stroke="#fff" stroke-width="1.6" fill="none"/>
<path d="M1099.92 336.82H1112.92M1106.42 330.32V343.32" stroke="#fff" stroke-width="1.6" fill="none"/>
<path d="M1145.55 311.52H1158.55M1152.05 305.02V318.02" stroke="#fff" stroke-width="1.6" fill="none"/>
<path d="M1191.18 341.38H1204.18M1197.68 334.88V347.88" stroke="#fff" stroke-width="1.6" fill="none"/>
<path d="M1236.81 363.73H1249.81M1243.31 357.23V370.23" stroke="#fff" stroke-width="1.6" fill="none"/>
<path d="M1282.44 355.98H1295.44M1288.94 349.48V362.48" stroke="#fff" stroke-width="1.6" fill="none"/>
<path d="M1328.07 360.54H1341.07M1334.57 354.04V367.04" stroke="#fff" stroke-width="1.6" fill="none"/>
<path d="M1373.7 379.92H1386.7M1380.2 373.42V386.42" stroke="#fff" stroke-width="1.6" fill="none"/>
<polyline points="928.46,266.6 946.71,242.2 969.53,243.8 1015.16,253.38 1060.79,132.54 1106.42,278.23 1152.05,354.38 1197.68,303.08 1243.31,313.11 1288.94,358.94 1334.57,326.79 1380.2,262.95" fill="none" stroke="#d57ebf" stroke-width="2.7" stroke-linejoin="round" stroke-linecap="round"/>
<path d="M928.46 260.1V273.1" stroke="#fff" stroke-width="1.6" fill="none"/>
<path d="M946.71 235.7V248.7" stroke="#fff" stroke-width="1.6" fill="none"/>
<path d="M969.53 237.3V250.3" stroke="#fff" stroke-width="1.6" fill="none"/>
<path d="M1015.16 246.88V259.88" stroke="#fff" stroke-width="1.6" fill="none"/>
<path d="M1060.79 126.04V139.04" stroke="#fff" stroke-width="1.6" fill="none"/>
<path d="M1106.42 271.73V284.73" stroke="#fff" stroke-width="1.6" fill="none"/>
<path d="M1152.05 347.88V360.88" stroke="#fff" stroke-width="1.6" fill="none"/>
<path d="M1197.68 296.58V309.58" stroke="#fff" stroke-width="1.6" fill="none"/>
<path d="M1243.31 306.61V319.61" stroke="#fff" stroke-width="1.6" fill="none"/>
<path d="M1288.94 352.44V365.44" stroke="#fff" stroke-width="1.6" fill="none"/>
<path d="M1334.57 320.29V333.29" stroke="#fff" stroke-width="1.6" fill="none"/>
<path d="M1380.2 256.45V269.45" stroke="#fff" stroke-width="1.6" fill="none"/>
<polyline points="928.46,291.22 946.71,292.59 969.53,378.09 1015.16,311.29 1060.79,297.38 1106.42,344.35 1152.05,366.92 1197.68,392.91 1243.31,363.73 1288.94,376.04 1334.57,395.88 1380.2,407.5" fill="none" stroke="#7f7f7f" stroke-width="2.7" stroke-linejoin="round" stroke-linecap="round"/>
<polygon points="928.46,284.72 934.96,297.72 921.96,297.72" fill="#7f7f7f" stroke="#fff" stroke-width="1.6"/>
<polygon points="946.71,286.09 953.21,299.09 940.21,299.09" fill="#7f7f7f" stroke="#fff" stroke-width="1.6"/>
<polygon points="969.53,371.59 976.03,384.59 963.03,384.59" fill="#7f7f7f" stroke="#fff" stroke-width="1.6"/>
<polygon points="1015.16,304.79 1021.66,317.79 1008.66,317.79" fill="#7f7f7f" stroke="#fff" stroke-width="1.6"/>
<polygon points="1060.79,290.88 1067.29,303.88 1054.29,303.88" fill="#7f7f7f" stroke="#fff" stroke-width="1.6"/>
<polygon points="1106.42,337.85 1112.92,350.85 1099.92,350.85" fill="#7f7f7f" stroke="#fff" stroke-width="1.6"/>
<polygon points="1152.05,360.42 1158.55,373.42 1145.55,373.42" fill="#7f7f7f" stroke="#fff" stroke-width="1.6"/>
<polygon points="1197.68,386.41 1204.18,399.41 1191.18,399.41" fill="#7f7f7f" stroke="#fff" stroke-width="1.6"/>
<polygon points="1243.31,357.23 1249.81,370.23 1236.81,370.23" fill="#7f7f7f" stroke="#fff" stroke-width="1.6"/>
<polygon points="1288.94,369.54 1295.44,382.54 1282.44,382.54" fill="#7f7f7f" stroke="#fff" stroke-width="1.6"/>
<polygon points="1334.57,389.38 1341.07,402.38 1328.07,402.38" fill="#7f7f7f" stroke="#fff" stroke-width="1.6"/>
<polygon points="1380.2,401 1386.7,414 1373.7,414" fill="#7f7f7f" stroke="#fff" stroke-width="1.6"/>
<polyline points="928.46,220.09 946.71,218.49 969.53,226.7 1015.16,233.31 1060.79,254.97 1106.42,287.35 1152.05,367.6 1197.68,257.48 1243.31,343.66 1288.94,379.92 1334.57,355.29 1380.2,357.57" fill="none" stroke="#bcbd44" stroke-width="2.7" stroke-linejoin="round" stroke-linecap="round"/>
<polygon points="928.46,226.59 934.96,213.59 921.96,213.59" fill="#bcbd44" stroke="#fff" stroke-width="1.6"/>
<polygon points="946.71,224.99 953.21,211.99 940.21,211.99" fill="#bcbd44" stroke="#fff" stroke-width="1.6"/>
<polygon points="969.53,233.2 976.03,220.2 963.03,220.2" fill="#bcbd44" stroke="#fff" stroke-width="1.6"/>
<polygon points="1015.16,239.81 1021.66,226.81 1008.66,226.81" fill="#bcbd44" stroke="#fff" stroke-width="1.6"/>
<polygon points="1060.79,261.47 1067.29,248.47 1054.29,248.47" fill="#bcbd44" stroke="#fff" stroke-width="1.6"/>
<polygon points="1106.42,293.85 1112.92,280.85 1099.92,280.85" fill="#bcbd44" stroke="#fff" stroke-width="1.6"/>
<polygon points="1152.05,374.1 1158.55,361.1 1145.55,361.1" fill="#bcbd44" stroke="#fff" stroke-width="1.6"/>
<polygon points="1197.68,263.98 1204.18,250.98 1191.18,250.98" fill="#bcbd44" stroke="#fff" stroke-width="1.6"/>
<polygon points="1243.31,350.16 1249.81,337.16 1236.81,337.16" fill="#bcbd44" stroke="#fff" stroke-width="1.6"/>
<polygon points="1288.94,386.42 1295.44,373.42 1282.44,373.42" fill="#bcbd44" stroke="#fff" stroke-width="1.6"/>
<polygon points="1334.57,361.79 1341.07,348.79 1328.07,348.79" fill="#bcbd44" stroke="#fff" stroke-width="1.6"/>
<polygon points="1380.2,364.07 1386.7,351.07 1373.7,351.07" fill="#bcbd44" stroke="#fff" stroke-width="1.6"/>
<polyline points="928.46,150.78 946.71,188.85 969.53,344.8 1015.16,135.96 1060.79,234 1106.42,133.9 1152.05,193.41 1197.68,188.85 1243.31,237.64 1288.94,108.14 1334.57,296.01 1380.2,255.43" fill="none" stroke="#58b9cc" stroke-width="2.7" stroke-linejoin="round" stroke-linecap="round"/>
<polygon points="921.96,150.78 934.96,144.28 934.96,157.28" fill="#58b9cc" stroke="#fff" stroke-width="1.6"/>
<polygon points="940.21,188.85 953.21,182.35 953.21,195.35" fill="#58b9cc" stroke="#fff" stroke-width="1.6"/>
<polygon points="963.03,344.8 976.03,338.3 976.03,351.3" fill="#58b9cc" stroke="#fff" stroke-width="1.6"/>
<polygon points="1008.66,135.96 1021.66,129.46 1021.66,142.46" fill="#58b9cc" stroke="#fff" stroke-width="1.6"/>
<polygon points="1054.29,234 1067.29,227.5 1067.29,240.5" fill="#58b9cc" stroke="#fff" stroke-width="1.6"/>
<polygon points="1099.92,133.9 1112.92,127.4 1112.92,140.4" fill="#58b9cc" stroke="#fff" stroke-width="1.6"/>
<polygon points="1145.55,193.41 1158.55,186.91 1158.55,199.91" fill="#58b9cc" stroke="#fff" stroke-width="1.6"/>
<polygon points="1191.18,188.85 1204.18,182.35 1204.18,195.35" fill="#58b9cc" stroke="#fff" stroke-width="1.6"/>
<polygon points="1236.81,237.64 1249.81,231.14 1249.81,244.14" fill="#58b9cc" stroke="#fff" stroke-width="1.6"/>
<polygon points="1282.44,108.14 1295.44,101.64 1295.44,114.64" fill="#58b9cc" stroke="#fff" stroke-width="1.6"/>
<polygon points="1328.07,296.01 1341.07,289.51 1341.07,302.51" fill="#58b9cc" stroke="#fff" stroke-width="1.6"/>
<polygon points="1373.7,255.43 1386.7,248.93 1386.7,261.93" fill="#58b9cc" stroke="#fff" stroke-width="1.6"/>
<path d="M905.9 300.8H1402.7" stroke="#e8321f" stroke-width="4.8" stroke-dasharray="17 7.3" fill="none"/>
</g>
<rect x="905.9" y="88.8" width="496.8" height="434.2" fill="none" stroke="#cccccc" stroke-width="2.1"/>
<text x="887.3" y="197.6" font-size="27.7" text-anchor="end">5</text>
<text x="887.3" y="311.6" font-size="27.7" text-anchor="end">0</text>
<text x="887.3" y="425.6" font-size="27.7" text-anchor="end">−5</text>
<text x="923.9" y="563" font-size="27.7" text-anchor="middle">0</text>
<text x="1015.16" y="563" font-size="27.7" text-anchor="middle">20</text>
<text x="1106.42" y="563" font-size="27.7" text-anchor="middle">40</text>
<text x="1197.68" y="563" font-size="27.7" text-anchor="middle">60</text>
<text x="1288.94" y="563" font-size="27.7" text-anchor="middle">80</text>
<text x="1380.2" y="563" font-size="27.7" text-anchor="middle">100</text>
<text x="1154.3" y="599.1" font-size="27.7" text-anchor="middle">% copied samples</text>
<text transform="translate(831.25 305.9) rotate(-90)" font-size="27.7" text-anchor="middle">Generalization Gap FID</text>
<path d="M1579.2 88.8V523.0M1670.46 88.8V523.0M1761.72 88.8V523.0M1852.98 88.8V523.0M1944.24 88.8V523.0M2035.5 88.8V523.0M1561.2 120.6H2058M1561.2 216.28H2058M1561.2 311.95H2058M1561.2 407.62H2058M1561.2 503.3H2058" stroke="#cccccc" stroke-width="2" fill="none"/>
<g clip-path="url(#c3)">
<polyline points="1583.76,189.87 1602.02,197.14 1624.83,205.46 1670.46,234.26 1716.09,260.76 1761.72,284.78 1807.35,310.04 1852.98,340.65 1898.61,368.4 1944.24,393.27 1989.87,412.41 2035.5,436.33" fill="none" stroke="#3b75af" stroke-width="2.7" stroke-linejoin="round" stroke-linecap="round"/>
<circle cx="1583.76" cy="189.87" r="6.6" fill="#3b75af" stroke="#fff" stroke-width="1.6"/>
<circle cx="1602.02" cy="197.14" r="6.6" fill="#3b75af" stroke="#fff" stroke-width="1.6"/>
<circle cx="1624.83" cy="205.46" r="6.6" fill="#3b75af" stroke="#fff" stroke-width="1.6"/>
<circle cx="1670.46" cy="234.26" r="6.6" fill="#3b75af" stroke="#fff" stroke-width="1.6"/>
<circle cx="1716.09" cy="260.76" r="6.6" fill="#3b75af" stroke="#fff" stroke-width="1.6"/>
<circle cx="1761.72" cy="284.78" r="6.6" fill="#3b75af" stroke="#fff" stroke-width="1.6"/>
<circle cx="1807.35" cy="310.04" r="6.6" fill="#3b75af" stroke="#fff" stroke-width="1.6"/>
<circle cx="1852.98" cy="340.65" r="6.6" fill="#3b75af" stroke="#fff" stroke-width="1.6"/>
<circle cx="1898.61" cy="368.4" r="6.6" fill="#3b75af" stroke="#fff" stroke-width="1.6"/>
<circle cx="1944.24" cy="393.27" r="6.6" fill="#3b75af" stroke="#fff" stroke-width="1.6"/>
<circle cx="1989.87" cy="412.41" r="6.6" fill="#3b75af" stroke="#fff" stroke-width="1.6"/>
<circle cx="2035.5" cy="436.33" r="6.6" fill="#3b75af" stroke="#fff" stroke-width="1.6"/>
<polyline points="1583.76,182.79 1602.02,193.31 1624.83,206.71 1670.46,228.33 1716.09,255.98 1761.72,286.02 1807.35,311.95 1852.98,324.1 1898.61,357.2 1944.24,388.49 1989.87,407.62 2035.5,440.15" fill="none" stroke="#ed8735" stroke-width="2.7" stroke-linejoin="round" stroke-linecap="round"/>
<rect x="1577.01" y="176.04" width="13.5" height="13.5" fill="#ed8735" stroke="#fff" stroke-width="1.6"/>
<rect x="1595.27" y="186.56" width="13.5" height="13.5" fill="#ed8735" stroke="#fff" stroke-width="1.6"/>
<rect x="1618.08" y="199.96" width="13.5" height="13.5" fill="#ed8735" stroke="#fff" stroke-width="1.6"/>
<rect x="1663.71" y="221.58" width="13.5" height="13.5" fill="#ed8735" stroke="#fff" stroke-width="1.6"/>
<rect x="1709.34" y="249.23" width="13.5" height="13.5" fill="#ed8735" stroke="#fff" stroke-width="1.6"/>
<rect x="1754.97" y="279.27" width="13.5" height="13.5" fill="#ed8735" stroke="#fff" stroke-width="1.6"/>
<rect x="1800.6" y="305.2" width="13.5" height="13.5" fill="#ed8735" stroke="#fff" stroke-width="1.6"/>
<rect x="1846.23" y="317.35" width="13.5" height="13.5" fill="#ed8735" stroke="#fff" stroke-width="1.6"/>
<rect x="1891.86" y="350.45" width="13.5" height="13.5" fill="#ed8735" stroke="#fff" stroke-width="1.6"/>
<rect x="1937.49" y="381.74" width="13.5" height="13.5" fill="#ed8735" stroke="#fff" stroke-width="1.6"/>
<rect x="1983.12" y="400.88" width="13.5" height="13.5" fill="#ed8735" stroke="#fff" stroke-width="1.6"/>
<rect x="2028.75" y="433.4" width="13.5" height="13.5" fill="#ed8735" stroke="#fff" stroke-width="1.6"/>
<polyline points="1583.76,196.57 1602.02,210.25 1624.83,221.54 1670.46,236.75 1716.09,269.18 1761.72,296.83 1807.35,316.73 1852.98,338.07 1898.61,363.23 1944.24,396.81 1989.87,403.32 2035.5,432.88" fill="none" stroke="#519e3e" stroke-width="2.7" stroke-linejoin="round" stroke-linecap="round"/>
<polygon points="1583.76,186.87 1593.46,196.57 1583.76,206.27 1574.06,196.57" fill="#519e3e" stroke="#fff" stroke-width="1.6"/>
<polygon points="1602.02,200.55 1611.72,210.25 1602.02,219.95 1592.32,210.25" fill="#519e3e" stroke="#fff" stroke-width="1.6"/>
<polygon points="1624.83,211.84 1634.53,221.54 1624.83,231.24 1615.13,221.54" fill="#519e3e" stroke="#fff" stroke-width="1.6"/>
<polygon points="1670.46,227.05 1680.16,236.75 1670.46,246.45 1660.76,236.75" fill="#519e3e" stroke="#fff" stroke-width="1.6"/>
<polygon points="1716.09,259.48 1725.79,269.18 1716.09,278.88 1706.39,269.18" fill="#519e3e" stroke="#fff" stroke-width="1.6"/>
<polygon points="1761.72,287.13 1771.42,296.83 1761.72,306.53 1752.02,296.83" fill="#519e3e" stroke="#fff" stroke-width="1.6"/>
<polygon points="1807.35,307.03 1817.05,316.73 1807.35,326.43 1797.65,316.73" fill="#519e3e" stroke="#fff" stroke-width="1.6"/>
<polygon points="1852.98,328.37 1862.68,338.07 1852.98,347.77 1843.28,338.07" fill="#519e3e" stroke="#fff" stroke-width="1.6"/>
<polygon points="1898.61,353.53 1908.31,363.23 1898.61,372.93 1888.91,363.23" fill="#519e3e" stroke="#fff" stroke-width="1.6"/>
<polygon points="1944.24,387.11 1953.94,396.81 1944.24,406.51 1934.54,396.81" fill="#519e3e" stroke="#fff" stroke-width="1.6"/>
<polygon points="1989.87,393.62 1999.57,403.32 1989.87,413.02 1980.17,403.32" fill="#519e3e" stroke="#fff" stroke-width="1.6"/>
<polygon points="2035.5,423.18 2045.2,432.88 2035.5,442.58 2025.8,432.88" fill="#519e3e" stroke="#fff" stroke-width="1.6"/>
<polyline points="1583.76,184.99 1602.02,195.8 1624.83,203.07 1670.46,243.16 1716.09,267.94 1761.72,283.63 1807.35,320.08 1852.98,345.24 1898.61,364.95 1944.24,395.67 1989.87,416.04 2035.5,449.72" fill="none" stroke="#c53a33" stroke-width="2.7" stroke-linejoin="round" stroke-linecap="round"/>
<polygon points="1583.76,175.59 1589.46,184.99 1583.76,194.39 1578.06,184.99" fill="#c53a33" stroke="#fff" stroke-width="1.6"/>
<polygon points="1602.02,186.4 1607.72,195.8 1602.02,205.2 1596.32,195.8" fill="#c53a33" stroke="#fff" stroke-width="1.6"/>
<polygon points="1624.83,193.67 1630.53,203.07 1624.83,212.47 1619.13,203.07" fill="#c53a33" stroke="#fff" stroke-width="1.6"/>
<polygon points="1670.46,233.76 1676.16,243.16 1670.46,252.56 1664.76,243.16" fill="#c53a33" stroke="#fff" stroke-width="1.6"/>
<polygon points="1716.09,258.54 1721.79,267.94 1716.09,277.34 1710.39,267.94" fill="#c53a33" stroke="#fff" stroke-width="1.6"/>
<polygon points="1761.72,274.23 1767.42,283.63 1761.72,293.03 1756.02,283.63" fill="#c53a33" stroke="#fff" stroke-width="1.6"/>
<polygon points="1807.35,310.68 1813.05,320.08 1807.35,329.48 1801.65,320.08" fill="#c53a33" stroke="#fff" stroke-width="1.6"/>
<polygon points="1852.98,335.84 1858.68,345.24 1852.98,354.64 1847.28,345.24" fill="#c53a33" stroke="#fff" stroke-width="1.6"/>
<polygon points="1898.61,355.55 1904.31,364.95 1898.61,374.35 1892.91,364.95" fill="#c53a33" stroke="#fff" stroke-width="1.6"/>
<polygon points="1944.24,386.27 1949.94,395.67 1944.24,405.07 1938.54,395.67" fill="#c53a33" stroke="#fff" stroke-width="1.6"/>
<polygon points="1989.87,406.64 1995.57,416.04 1989.87,425.44 1984.17,416.04" fill="#c53a33" stroke="#fff" stroke-width="1.6"/>
<polygon points="2035.5,440.32 2041.2,449.72 2035.5,459.12 2029.8,449.72" fill="#c53a33" stroke="#fff" stroke-width="1.6"/>
<polyline points="1583.76,202.98 1602.02,202.31 1624.83,213.88 1670.46,237.42 1716.09,257.13 1761.72,278.75 1807.35,290.33 1852.98,316.45 1898.61,326.01 1944.24,348.78 1989.87,378.92 2035.5,392.8" fill="none" stroke="#8b62b9" stroke-width="2.7" stroke-linejoin="round" stroke-linecap="round"/>
<polygon points="1583.76,197.38 1585.11,201.12 1589.09,201.25 1585.95,203.69 1587.05,207.51 1583.76,205.28 1580.47,207.51 1581.58,203.69 1578.44,201.25 1582.41,201.12" fill="#8b62b9" stroke="#fff" stroke-width="1.0"/>
<polygon points="1602.02,196.71 1603.37,200.45 1607.34,200.58 1604.2,203.02 1605.31,206.84 1602.02,204.61 1598.72,206.84 1599.83,203.02 1596.69,200.58 1600.66,200.45" fill="#8b62b9" stroke="#fff" stroke-width="1.0"/>
<polygon points="1624.83,208.28 1626.18,212.02 1630.16,212.15 1627.02,214.59 1628.12,218.41 1624.83,216.18 1621.54,218.41 1622.64,214.59 1619.5,212.15 1623.48,212.02" fill="#8b62b9" stroke="#fff" stroke-width="1.0"/>
<polygon points="1670.46,231.82 1671.81,235.56 1675.79,235.69 1672.65,238.13 1673.75,241.95 1670.46,239.72 1667.17,241.95 1668.27,238.13 1665.13,235.69 1669.11,235.56" fill="#8b62b9" stroke="#fff" stroke-width="1.0"/>
<polygon points="1716.09,251.53 1717.44,255.27 1721.42,255.4 1718.28,257.84 1719.38,261.66 1716.09,259.43 1712.8,261.66 1713.9,257.84 1710.76,255.4 1714.74,255.27" fill="#8b62b9" stroke="#fff" stroke-width="1.0"/>
<polygon points="1761.72,273.15 1763.07,276.89 1767.05,277.02 1763.91,279.46 1765.01,283.28 1761.72,281.05 1758.43,283.28 1759.53,279.46 1756.39,277.02 1760.37,276.89" fill="#8b62b9" stroke="#fff" stroke-width="1.0"/>
<polygon points="1807.35,284.73 1808.7,288.47 1812.68,288.6 1809.54,291.04 1810.64,294.86 1807.35,292.63 1804.06,294.86 1805.16,291.04 1802.02,288.6 1806,288.47" fill="#8b62b9" stroke="#fff" stroke-width="1.0"/>
<polygon points="1852.98,310.85 1854.33,314.59 1858.31,314.72 1855.17,317.16 1856.27,320.98 1852.98,318.75 1849.69,320.98 1850.79,317.16 1847.65,314.72 1851.63,314.59" fill="#8b62b9" stroke="#fff" stroke-width="1.0"/>
<polygon points="1898.61,320.41 1899.96,324.15 1903.94,324.28 1900.8,326.72 1901.9,330.54 1898.61,328.31 1895.32,330.54 1896.42,326.72 1893.28,324.28 1897.26,324.15" fill="#8b62b9" stroke="#fff" stroke-width="1.0"/>
<polygon points="1944.24,343.18 1945.59,346.92 1949.57,347.05 1946.43,349.5 1947.53,353.32 1944.24,351.08 1940.95,353.32 1942.05,349.5 1938.91,347.05 1942.89,346.92" fill="#8b62b9" stroke="#fff" stroke-width="1.0"/>
<polygon points="1989.87,373.32 1991.22,377.06 1995.2,377.19 1992.06,379.63 1993.16,383.45 1989.87,381.22 1986.58,383.45 1987.68,379.63 1984.54,377.19 1988.52,377.06" fill="#8b62b9" stroke="#fff" stroke-width="1.0"/>
<polygon points="2035.5,387.2 2036.85,390.93 2040.83,391.06 2037.69,393.51 2038.79,397.33 2035.5,395.1 2032.21,397.33 2033.31,393.51 2030.17,391.06 2034.15,390.93" fill="#8b62b9" stroke="#fff" stroke-width="1.0"/>
<polyline points="1583.76,163.65 1602.02,171.31 1624.83,184.7 1670.46,201.92 1716.09,224.89 1761.72,252.63 1807.35,277.51 1852.98,294.73 1898.61,313.86 1944.24,346.39 1989.87,369.36 2035.5,393.27" fill="none" stroke="#84584e" stroke-width="2.7" stroke-linejoin="round" stroke-linecap="round"/>
<path d="M1577.26 163.65H1590.26M1583.76 157.15V170.15" stroke="#fff" stroke-width="1.6" fill="none"/>
<path d="M1595.52 171.31H1608.52M1602.02 164.81V177.81" stroke="#fff" stroke-width="1.6" fill="none"/>
<path d="M1618.33 184.7H1631.33M1624.83 178.2V191.2" stroke="#fff" stroke-width="1.6" fill="none"/>
<path d="M1663.96 201.92H1676.96M1670.46 195.42V208.42" stroke="#fff" stroke-width="1.6" fill="none"/>
<path d="M1709.59 224.89H1722.59M1716.09 218.39V231.39" stroke="#fff" stroke-width="1.6" fill="none"/>
<path d="M1755.22 252.63H1768.22M1761.72 246.13V259.13" stroke="#fff" stroke-width="1.6" fill="none"/>
<path d="M1800.85 277.51H1813.85M1807.35 271.01V284.01" stroke="#fff" stroke-width="1.6" fill="none"/>
<path d="M1846.48 294.73H1859.48M1852.98 288.23V301.23" stroke="#fff" stroke-width="1.6" fill="none"/>
<path d="M1892.11 313.86H1905.11M1898.61 307.36V320.36" stroke="#fff" stroke-width="1.6" fill="none"/>
<path d="M1937.74 346.39H1950.74M1944.24 339.89V352.89" stroke="#fff" stroke-width="1.6" fill="none"/>
<path d="M1983.37 369.36H1996.37M1989.87 362.86V375.86" stroke="#fff" stroke-width="1.6" fill="none"/>
<path d="M2029 393.27H2042M2035.5 386.77V399.77" stroke="#fff" stroke-width="1.6" fill="none"/>
<polyline points="1583.76,198.1 1602.02,215.8 1624.83,209.58 1670.46,211.01 1716.09,261.91 1761.72,255.98 1807.35,265.07 1852.98,276.55 1898.61,305.25 1944.24,321.23 1989.87,314.05 2035.5,338.07" fill="none" stroke="#d57ebf" stroke-width="2.7" stroke-linejoin="round" stroke-linecap="round"/>
<path d="M1583.76 191.6V204.6" stroke="#fff" stroke-width="1.6" fill="none"/>
<path d="M1602.02 209.3V222.3" stroke="#fff" stroke-width="1.6" fill="none"/>
<path d="M1624.83 203.08V216.08" stroke="#fff" stroke-width="1.6" fill="none"/>
<path d="M1670.46 204.51V217.51" stroke="#fff" stroke-width="1.6" fill="none"/>
<path d="M1716.09 255.41V268.41" stroke="#fff" stroke-width="1.6" fill="none"/>
<path d="M1761.72 249.48V262.48" stroke="#fff" stroke-width="1.6" fill="none"/>
<path d="M1807.35 258.57V271.57" stroke="#fff" stroke-width="1.6" fill="none"/>
<path d="M1852.98 270.05V283.05" stroke="#fff" stroke-width="1.6" fill="none"/>
<path d="M1898.61 298.75V311.75" stroke="#fff" stroke-width="1.6" fill="none"/>
<path d="M1944.24 314.73V327.73" stroke="#fff" stroke-width="1.6" fill="none"/>
<path d="M1989.87 307.55V320.55" stroke="#fff" stroke-width="1.6" fill="none"/>
<path d="M2035.5 331.57V344.57" stroke="#fff" stroke-width="1.6" fill="none"/>
<polyline points="1583.76,174.18 1602.02,186.9 1624.83,197.52 1670.46,217.52 1716.09,245.65 1761.72,275.88 1807.35,279.23 1852.98,300.85 1898.61,335.87 1944.24,357.2 1989.87,375.29 2035.5,406.96" fill="none" stroke="#7f7f7f" stroke-width="2.7" stroke-linejoin="round" stroke-linecap="round"/>
<polygon points="1583.76,167.68 1590.26,180.68 1577.26,180.68" fill="#7f7f7f" stroke="#fff" stroke-width="1.6"/>
<polygon points="1602.02,180.4 1608.52,193.4 1595.52,193.4" fill="#7f7f7f" stroke="#fff" stroke-width="1.6"/>
<polygon points="1624.83,191.02 1631.33,204.02 1618.33,204.02" fill="#7f7f7f" stroke="#fff" stroke-width="1.6"/>
<polygon points="1670.46,211.02 1676.96,224.02 1663.96,224.02" fill="#7f7f7f" stroke="#fff" stroke-width="1.6"/>
<polygon points="1716.09,239.15 1722.59,252.15 1709.59,252.15" fill="#7f7f7f" stroke="#fff" stroke-width="1.6"/>
<polygon points="1761.72,269.38 1768.22,282.38 1755.22,282.38" fill="#7f7f7f" stroke="#fff" stroke-width="1.6"/>
<polygon points="1807.35,272.73 1813.85,285.73 1800.85,285.73" fill="#7f7f7f" stroke="#fff" stroke-width="1.6"/>
<polygon points="1852.98,294.35 1859.48,307.35 1846.48,307.35" fill="#7f7f7f" stroke="#fff" stroke-width="1.6"/>
<polygon points="1898.61,329.37 1905.11,342.37 1892.11,342.37" fill="#7f7f7f" stroke="#fff" stroke-width="1.6"/>
<polygon points="1944.24,350.7 1950.74,363.7 1937.74,363.7" fill="#7f7f7f" stroke="#fff" stroke-width="1.6"/>
<polygon points="1989.87,368.79 1996.37,381.79 1983.37,381.79" fill="#7f7f7f" stroke="#fff" stroke-width="1.6"/>
<polygon points="2035.5,400.46 2042,413.46 2029,413.46" fill="#7f7f7f" stroke="#fff" stroke-width="1.6"/>
<polyline points="1583.76,159.73 1602.02,168.05 1624.83,174.56 1670.46,193.41 1716.09,222.3 1761.72,242.2 1807.35,260.76 1852.98,286.6 1898.61,312.14 1944.24,333.67 1989.87,363.23 2035.5,379.31" fill="none" stroke="#bcbd44" stroke-width="2.7" stroke-linejoin="round" stroke-linecap="round"/>
<polygon points="1583.76,166.23 1590.26,153.23 1577.26,153.23" fill="#bcbd44" stroke="#fff" stroke-width="1.6"/>
<polygon points="1602.02,174.55 1608.52,161.55 1595.52,161.55" fill="#bcbd44" stroke="#fff" stroke-width="1.6"/>
<polygon points="1624.83,181.06 1631.33,168.06 1618.33,168.06" fill="#bcbd44" stroke="#fff" stroke-width="1.6"/>
<polygon points="1670.46,199.91 1676.96,186.91 1663.96,186.91" fill="#bcbd44" stroke="#fff" stroke-width="1.6"/>
<polygon points="1716.09,228.8 1722.59,215.8 1709.59,215.8" fill="#bcbd44" stroke="#fff" stroke-width="1.6"/>
<polygon points="1761.72,248.7 1768.22,235.7 1755.22,235.7" fill="#bcbd44" stroke="#fff" stroke-width="1.6"/>
<polygon points="1807.35,267.26 1813.85,254.26 1800.85,254.26" fill="#bcbd44" stroke="#fff" stroke-width="1.6"/>
<polygon points="1852.98,293.1 1859.48,280.1 1846.48,280.1" fill="#bcbd44" stroke="#fff" stroke-width="1.6"/>
<polygon points="1898.61,318.64 1905.11,305.64 1892.11,305.64" fill="#bcbd44" stroke="#fff" stroke-width="1.6"/>
<polygon points="1944.24,340.17 1950.74,327.17 1937.74,327.17" fill="#bcbd44" stroke="#fff" stroke-width="1.6"/>
<polygon points="1989.87,369.73 1996.37,356.73 1983.37,356.73" fill="#bcbd44" stroke="#fff" stroke-width="1.6"/>
<polygon points="2035.5,385.81 2042,372.81 2029,372.81" fill="#bcbd44" stroke="#fff" stroke-width="1.6"/>
<polyline points="1583.76,115.53 1602.02,108.16 1624.83,116.2 1670.46,108.16 1716.09,111.7 1761.72,122.04 1807.35,134.86 1852.98,133.99 1898.61,149.69 1944.24,148.73 1989.87,155.62 2035.5,171.02" fill="none" stroke="#58b9cc" stroke-width="2.7" stroke-linejoin="round" stroke-linecap="round"/>
<polygon points="1577.26,115.53 1590.26,109.03 1590.26,122.03" fill="#58b9cc" stroke="#fff" stroke-width="1.6"/>
<polygon points="1595.52,108.16 1608.52,101.66 1608.52,114.66" fill="#58b9cc" stroke="#fff" stroke-width="1.6"/>
<polygon points="1618.33,116.2 1631.33,109.7 1631.33,122.7" fill="#58b9cc" stroke="#fff" stroke-width="1.6"/>
<polygon points="1663.96,108.16 1676.96,101.66 1676.96,114.66" fill="#58b9cc" stroke="#fff" stroke-width="1.6"/>
<polygon points="1709.59,111.7 1722.59,105.2 1722.59,118.2" fill="#58b9cc" stroke="#fff" stroke-width="1.6"/>
<polygon points="1755.22,122.04 1768.22,115.54 1768.22,128.54" fill="#58b9cc" stroke="#fff" stroke-width="1.6"/>
<polygon points="1800.85,134.86 1813.85,128.36 1813.85,141.36" fill="#58b9cc" stroke="#fff" stroke-width="1.6"/>
<polygon points="1846.48,133.99 1859.48,127.49 1859.48,140.49" fill="#58b9cc" stroke="#fff" stroke-width="1.6"/>
<polygon points="1892.11,149.69 1905.11,143.19 1905.11,156.19" fill="#58b9cc" stroke="#fff" stroke-width="1.6"/>
<polygon points="1937.74,148.73 1950.74,142.23 1950.74,155.23" fill="#58b9cc" stroke="#fff" stroke-width="1.6"/>
<polygon points="1983.37,155.62 1996.37,149.12 1996.37,162.12" fill="#58b9cc" stroke="#fff" stroke-width="1.6"/>
<polygon points="2029,171.02 2042,164.52 2042,177.52" fill="#58b9cc" stroke="#fff" stroke-width="1.6"/>
<path d="M1561.2 503.3H2058" stroke="#e8321f" stroke-width="4.8" stroke-dasharray="17 7.3" fill="none"/>
</g>
<rect x="1561.2" y="88.8" width="496.8" height="434.2" fill="none" stroke="#cccccc" stroke-width="2.1"/>
<text x="1542.6" y="131.4" font-size="27.7" text-anchor="end">90</text>
<text x="1542.6" y="227.08" font-size="27.7" text-anchor="end">80</text>
<text x="1542.6" y="322.75" font-size="27.7" text-anchor="end">70</text>
<text x="1542.6" y="418.43" font-size="27.7" text-anchor="end">60</text>
<text x="1542.6" y="514.1" font-size="27.7" text-anchor="end">50</text>
<text x="1579.2" y="563" font-size="27.7" text-anchor="middle">0</text>
<text x="1670.46" y="563" font-size="27.7" text-anchor="middle">20</text>
<text x="1761.72" y="563" font-size="27.7" text-anchor="middle">40</text>
<text x="1852.98" y="563" font-size="27.7" text-anchor="middle">60</text>
<text x="1944.24" y="563" font-size="27.7" text-anchor="middle">80</text>
<text x="2035.5" y="563" font-size="27.7" text-anchor="middle">100</text>
<text x="1809.6" y="599.1" font-size="27.7" text-anchor="middle">% copied samples</text>
<text transform="translate(1492.0 305.9) rotate(-90)" font-size="27.7" text-anchor="middle">AuthPct</text>
<path d="M2234.4 88.8V523.0M2325.66 88.8V523.0M2416.92 88.8V523.0M2508.18 88.8V523.0M2599.44 88.8V523.0M2690.7 88.8V523.0M2216.4 119.5H2713.2M2216.4 183.02H2713.2M2216.4 246.54H2713.2M2216.4 310.06H2713.2M2216.4 373.58H2713.2M2216.4 437.1H2713.2M2216.4 500.62H2713.2" stroke="#cccccc" stroke-width="2" fill="none"/>
<g clip-path="url(#c4)">
<polyline points="2238.96,173.49 2257.22,185.78 2280.03,199.12 2325.66,234.69 2371.29,266.55 2416.92,297.67 2462.55,329.12 2508.18,360.24 2553.81,391.37 2599.44,450.12 2645.07,448.53 2690.7,478.07" fill="none" stroke="#3b75af" stroke-width="2.7" stroke-linejoin="round" stroke-linecap="round"/>
<circle cx="2238.96" cy="173.49" r="6.6" fill="#3b75af" stroke="#fff" stroke-width="1.6"/>
<circle cx="2257.22" cy="185.78" r="6.6" fill="#3b75af" stroke="#fff" stroke-width="1.6"/>
<circle cx="2280.03" cy="199.12" r="6.6" fill="#3b75af" stroke="#fff" stroke-width="1.6"/>
<circle cx="2325.66" cy="234.69" r="6.6" fill="#3b75af" stroke="#fff" stroke-width="1.6"/>
<circle cx="2371.29" cy="266.55" r="6.6" fill="#3b75af" stroke="#fff" stroke-width="1.6"/>
<circle cx="2416.92" cy="297.67" r="6.6" fill="#3b75af" stroke="#fff" stroke-width="1.6"/>
<circle cx="2462.55" cy="329.12" r="6.6" fill="#3b75af" stroke="#fff" stroke-width="1.6"/>
<circle cx="2508.18" cy="360.24" r="6.6" fill="#3b75af" stroke="#fff" stroke-width="1.6"/>
<circle cx="2553.81" cy="391.37" r="6.6" fill="#3b75af" stroke="#fff" stroke-width="1.6"/>
<circle cx="2599.44" cy="450.12" r="6.6" fill="#3b75af" stroke="#fff" stroke-width="1.6"/>
<circle cx="2645.07" cy="448.53" r="6.6" fill="#3b75af" stroke="#fff" stroke-width="1.6"/>
<circle cx="2690.7" cy="478.07" r="6.6" fill="#3b75af" stroke="#fff" stroke-width="1.6"/>
<polyline points="2238.96,179.27 2257.22,190.23 2280.03,205.25 2325.66,234.69 2371.29,267.82 2416.92,307.93 2462.55,335.69 2508.18,352.62 2553.81,404.39 2599.44,409.15 2645.07,453.3 2690.7,466.64" fill="none" stroke="#ed8735" stroke-width="2.7" stroke-linejoin="round" stroke-linecap="round"/>
<rect x="2232.21" y="172.52" width="13.5" height="13.5" fill="#ed8735" stroke="#fff" stroke-width="1.6"/>
<rect x="2250.47" y="183.48" width="13.5" height="13.5" fill="#ed8735" stroke="#fff" stroke-width="1.6"/>
<rect x="2273.28" y="198.5" width="13.5" height="13.5" fill="#ed8735" stroke="#fff" stroke-width="1.6"/>
<rect x="2318.91" y="227.94" width="13.5" height="13.5" fill="#ed8735" stroke="#fff" stroke-width="1.6"/>
<rect x="2364.54" y="261.07" width="13.5" height="13.5" fill="#ed8735" stroke="#fff" stroke-width="1.6"/>
<rect x="2410.17" y="301.18" width="13.5" height="13.5" fill="#ed8735" stroke="#fff" stroke-width="1.6"/>
<rect x="2455.8" y="328.94" width="13.5" height="13.5" fill="#ed8735" stroke="#fff" stroke-width="1.6"/>
<rect x="2501.43" y="345.87" width="13.5" height="13.5" fill="#ed8735" stroke="#fff" stroke-width="1.6"/>
<rect x="2547.06" y="397.64" width="13.5" height="13.5" fill="#ed8735" stroke="#fff" stroke-width="1.6"/>
<rect x="2592.69" y="402.4" width="13.5" height="13.5" fill="#ed8735" stroke="#fff" stroke-width="1.6"/>
<rect x="2638.32" y="446.55" width="13.5" height="13.5" fill="#ed8735" stroke="#fff" stroke-width="1.6"/>
<rect x="2683.95" y="459.89" width="13.5" height="13.5" fill="#ed8735" stroke="#fff" stroke-width="1.6"/>
<polyline points="2238.96,168 2257.22,179.84 2280.03,196.14 2325.66,224.31 2371.29,257.08 2416.92,283.79 2462.55,320.06 2508.18,352.62 2553.81,384.06 2599.44,432.02 2645.07,445.99 2690.7,502.53" fill="none" stroke="#519e3e" stroke-width="2.7" stroke-linejoin="round" stroke-linecap="round"/>
<polygon points="2238.96,158.3 2248.66,168 2238.96,177.7 2229.26,168" fill="#519e3e" stroke="#fff" stroke-width="1.6"/>
<polygon points="2257.22,170.14 2266.91,179.84 2257.22,189.54 2247.52,179.84" fill="#519e3e" stroke="#fff" stroke-width="1.6"/>
<polygon points="2280.03,186.44 2289.73,196.14 2280.03,205.84 2270.33,196.14" fill="#519e3e" stroke="#fff" stroke-width="1.6"/>
<polygon points="2325.66,214.61 2335.36,224.31 2325.66,234.01 2315.96,224.31" fill="#519e3e" stroke="#fff" stroke-width="1.6"/>
<polygon points="2371.29,247.38 2380.99,257.08 2371.29,266.78 2361.59,257.08" fill="#519e3e" stroke="#fff" stroke-width="1.6"/>
<polygon points="2416.92,274.09 2426.62,283.79 2416.92,293.49 2407.22,283.79" fill="#519e3e" stroke="#fff" stroke-width="1.6"/>
<polygon points="2462.55,310.36 2472.25,320.06 2462.55,329.76 2452.85,320.06" fill="#519e3e" stroke="#fff" stroke-width="1.6"/>
<polygon points="2508.18,342.92 2517.88,352.62 2508.18,362.32 2498.48,352.62" fill="#519e3e" stroke="#fff" stroke-width="1.6"/>
<polygon points="2553.81,374.36 2563.51,384.06 2553.81,393.76 2544.11,384.06" fill="#519e3e" stroke="#fff" stroke-width="1.6"/>
<polygon points="2599.44,422.32 2609.14,432.02 2599.44,441.72 2589.74,432.02" fill="#519e3e" stroke="#fff" stroke-width="1.6"/>
<polygon points="2645.07,436.29 2654.77,445.99 2645.07,455.69 2635.37,445.99" fill="#519e3e" stroke="#fff" stroke-width="1.6"/>
<polygon points="2690.7,492.83 2700.4,502.53 2690.7,512.23 2681,502.53" fill="#519e3e" stroke="#fff" stroke-width="1.6"/>
<polyline points="2238.96,173.94 2257.22,182.83 2280.03,203.57 2325.66,233.2 2371.29,265.6 2416.92,295.13 2462.55,331.34 2508.18,378.03 2553.81,397.72 2599.44,420.58 2645.07,463.14 2690.7,503.48" fill="none" stroke="#c53a33" stroke-width="2.7" stroke-linejoin="round" stroke-linecap="round"/>
<polygon points="2238.96,164.54 2244.66,173.94 2238.96,183.34 2233.26,173.94" fill="#c53a33" stroke="#fff" stroke-width="1.6"/>
<polygon points="2257.22,173.43 2262.91,182.83 2257.22,192.23 2251.52,182.83" fill="#c53a33" stroke="#fff" stroke-width="1.6"/>
<polygon points="2280.03,194.17 2285.73,203.57 2280.03,212.97 2274.33,203.57" fill="#c53a33" stroke="#fff" stroke-width="1.6"/>
<polygon points="2325.66,223.8 2331.36,233.2 2325.66,242.6 2319.96,233.2" fill="#c53a33" stroke="#fff" stroke-width="1.6"/>
<polygon points="2371.29,256.2 2376.99,265.6 2371.29,275 2365.59,265.6" fill="#c53a33" stroke="#fff" stroke-width="1.6"/>
<polygon points="2416.92,285.73 2422.62,295.13 2416.92,304.53 2411.22,295.13" fill="#c53a33" stroke="#fff" stroke-width="1.6"/>
<polygon points="2462.55,321.94 2468.25,331.34 2462.55,340.74 2456.85,331.34" fill="#c53a33" stroke="#fff" stroke-width="1.6"/>
<polygon points="2508.18,368.63 2513.88,378.03 2508.18,387.43 2502.48,378.03" fill="#c53a33" stroke="#fff" stroke-width="1.6"/>
<polygon points="2553.81,388.32 2559.51,397.72 2553.81,407.12 2548.11,397.72" fill="#c53a33" stroke="#fff" stroke-width="1.6"/>
<polygon points="2599.44,411.18 2605.14,420.58 2599.44,429.98 2593.74,420.58" fill="#c53a33" stroke="#fff" stroke-width="1.6"/>
<polygon points="2645.07,453.74 2650.77,463.14 2645.07,472.54 2639.37,463.14" fill="#c53a33" stroke="#fff" stroke-width="1.6"/>
<polygon points="2690.7,494.08 2696.4,503.48 2690.7,512.88 2685,503.48" fill="#c53a33" stroke="#fff" stroke-width="1.6"/>
<polyline points="2238.96,162.06 2257.22,162.06 2280.03,182.83 2325.66,203.66 2371.29,222.85 2416.92,243.59 2462.55,262.86 2508.18,283.6 2553.81,303.71 2599.44,322.45 2645.07,341.5 2690.7,361.83" fill="none" stroke="#8b62b9" stroke-width="2.7" stroke-linejoin="round" stroke-linecap="round"/>
<polygon points="2238.96,156.46 2240.31,160.2 2244.29,160.33 2241.15,162.77 2242.25,166.59 2238.96,164.36 2235.67,166.59 2236.78,162.77 2233.64,160.33 2237.61,160.2" fill="#8b62b9" stroke="#fff" stroke-width="1.0"/>
<polygon points="2257.22,156.46 2258.57,160.2 2262.54,160.33 2259.4,162.77 2260.51,166.59 2257.22,164.36 2253.92,166.59 2255.03,162.77 2251.89,160.33 2255.86,160.2" fill="#8b62b9" stroke="#fff" stroke-width="1.0"/>
<polygon points="2280.03,177.23 2281.38,180.97 2285.36,181.1 2282.22,183.54 2283.32,187.36 2280.03,185.13 2276.74,187.36 2277.84,183.54 2274.7,181.1 2278.68,180.97" fill="#8b62b9" stroke="#fff" stroke-width="1.0"/>
<polygon points="2325.66,198.06 2327.01,201.8 2330.99,201.93 2327.85,204.37 2328.95,208.19 2325.66,205.96 2322.37,208.19 2323.47,204.37 2320.33,201.93 2324.31,201.8" fill="#8b62b9" stroke="#fff" stroke-width="1.0"/>
<polygon points="2371.29,217.25 2372.64,220.99 2376.62,221.12 2373.48,223.56 2374.58,227.38 2371.29,225.15 2368,227.38 2369.1,223.56 2365.96,221.12 2369.94,220.99" fill="#8b62b9" stroke="#fff" stroke-width="1.0"/>
<polygon points="2416.92,237.99 2418.27,241.73 2422.25,241.86 2419.11,244.3 2420.21,248.12 2416.92,245.89 2413.63,248.12 2414.73,244.3 2411.59,241.86 2415.57,241.73" fill="#8b62b9" stroke="#fff" stroke-width="1.0"/>
<polygon points="2462.55,257.26 2463.9,261 2467.88,261.13 2464.74,263.58 2465.84,267.4 2462.55,265.16 2459.26,267.4 2460.36,263.58 2457.22,261.13 2461.2,261" fill="#8b62b9" stroke="#fff" stroke-width="1.0"/>
<polygon points="2508.18,278 2509.53,281.74 2513.51,281.87 2510.37,284.31 2511.47,288.13 2508.18,285.9 2504.89,288.13 2505.99,284.31 2502.85,281.87 2506.83,281.74" fill="#8b62b9" stroke="#fff" stroke-width="1.0"/>
<polygon points="2553.81,298.11 2555.16,301.85 2559.14,301.98 2556,304.42 2557.1,308.24 2553.81,306.01 2550.52,308.24 2551.62,304.42 2548.48,301.98 2552.46,301.85" fill="#8b62b9" stroke="#fff" stroke-width="1.0"/>
<polygon points="2599.44,316.85 2600.79,320.59 2604.77,320.72 2601.63,323.16 2602.73,326.98 2599.44,324.75 2596.15,326.98 2597.25,323.16 2594.11,320.72 2598.09,320.59" fill="#8b62b9" stroke="#fff" stroke-width="1.0"/>
<polygon points="2645.07,335.9 2646.42,339.64 2650.4,339.77 2647.26,342.21 2648.36,346.03 2645.07,343.8 2641.78,346.03 2642.88,342.21 2639.74,339.77 2643.72,339.64" fill="#8b62b9" stroke="#fff" stroke-width="1.0"/>
<polygon points="2690.7,356.23 2692.05,359.97 2696.03,360.1 2692.89,362.54 2693.99,366.36 2690.7,364.13 2687.41,366.36 2688.51,362.54 2685.37,360.1 2689.35,359.97" fill="#8b62b9" stroke="#fff" stroke-width="1.0"/>
<polyline points="2238.96,135.38 2257.22,138.4 2280.03,154.75 2325.66,181.37 2371.29,210.97 2416.92,234.69 2462.55,259.88 2508.18,283.7 2553.81,312.6 2599.44,333.88 2645.07,356.75 2690.7,407.56" fill="none" stroke="#84584e" stroke-width="2.7" stroke-linejoin="round" stroke-linecap="round"/>
<path d="M2232.46 135.38H2245.46M2238.96 128.88V141.88" stroke="#fff" stroke-width="1.6" fill="none"/>
<path d="M2250.72 138.4H2263.72M2257.22 131.9V144.9" stroke="#fff" stroke-width="1.6" fill="none"/>
<path d="M2273.53 154.75H2286.53M2280.03 148.25V161.25" stroke="#fff" stroke-width="1.6" fill="none"/>
<path d="M2319.16 181.37H2332.16M2325.66 174.87V187.87" stroke="#fff" stroke-width="1.6" fill="none"/>
<path d="M2364.79 210.97H2377.79M2371.29 204.47V217.47" stroke="#fff" stroke-width="1.6" fill="none"/>
<path d="M2410.42 234.69H2423.42M2416.92 228.19V241.19" stroke="#fff" stroke-width="1.6" fill="none"/>
<path d="M2456.05 259.88H2469.05M2462.55 253.38V266.38" stroke="#fff" stroke-width="1.6" fill="none"/>
<path d="M2501.68 283.7H2514.68M2508.18 277.2V290.2" stroke="#fff" stroke-width="1.6" fill="none"/>
<path d="M2547.31 312.6H2560.31M2553.81 306.1V319.1" stroke="#fff" stroke-width="1.6" fill="none"/>
<path d="M2592.94 333.88H2605.94M2599.44 327.38V340.38" stroke="#fff" stroke-width="1.6" fill="none"/>
<path d="M2638.57 356.75H2651.57M2645.07 350.25V363.25" stroke="#fff" stroke-width="1.6" fill="none"/>
<path d="M2684.2 407.56H2697.2M2690.7 401.06V414.06" stroke="#fff" stroke-width="1.6" fill="none"/>
<polyline points="2238.96,158.56 2257.22,142.81 2280.03,168 2325.66,173.9 2371.29,185.78 2416.92,198.26 2462.55,200.62 2508.18,216.91 2553.81,224.94 2599.44,234.69 2645.07,243.59 2690.7,253.37" fill="none" stroke="#d57ebf" stroke-width="2.7" stroke-linejoin="round" stroke-linecap="round"/>
<path d="M2238.96 152.06V165.06" stroke="#fff" stroke-width="1.6" fill="none"/>
<path d="M2257.22 136.31V149.31" stroke="#fff" stroke-width="1.6" fill="none"/>
<path d="M2280.03 161.5V174.5" stroke="#fff" stroke-width="1.6" fill="none"/>
<path d="M2325.66 167.4V180.4" stroke="#fff" stroke-width="1.6" fill="none"/>
<path d="M2371.29 179.28V192.28" stroke="#fff" stroke-width="1.6" fill="none"/>
<path d="M2416.92 191.76V204.76" stroke="#fff" stroke-width="1.6" fill="none"/>
<path d="M2462.55 194.12V207.12" stroke="#fff" stroke-width="1.6" fill="none"/>
<path d="M2508.18 210.41V223.41" stroke="#fff" stroke-width="1.6" fill="none"/>
<path d="M2553.81 218.44V231.44" stroke="#fff" stroke-width="1.6" fill="none"/>
<path d="M2599.44 228.19V241.19" stroke="#fff" stroke-width="1.6" fill="none"/>
<path d="M2645.07 237.09V250.09" stroke="#fff" stroke-width="1.6" fill="none"/>
<path d="M2690.7 246.87V259.87" stroke="#fff" stroke-width="1.6" fill="none"/>
<polyline points="2238.96,165.71 2257.22,170.95 2280.03,188.74 2325.66,204.17 2371.29,237.01 2416.92,265.21 2462.55,293.86 2508.18,312.6 2553.81,348.17 2599.44,360.24 2645.07,397.08 2690.7,412.33" fill="none" stroke="#7f7f7f" stroke-width="2.7" stroke-linejoin="round" stroke-linecap="round"/>
<polygon points="2238.96,159.21 2245.46,172.21 2232.46,172.21" fill="#7f7f7f" stroke="#fff" stroke-width="1.6"/>
<polygon points="2257.22,164.45 2263.72,177.45 2250.72,177.45" fill="#7f7f7f" stroke="#fff" stroke-width="1.6"/>
<polygon points="2280.03,182.24 2286.53,195.24 2273.53,195.24" fill="#7f7f7f" stroke="#fff" stroke-width="1.6"/>
<polygon points="2325.66,197.67 2332.16,210.67 2319.16,210.67" fill="#7f7f7f" stroke="#fff" stroke-width="1.6"/>
<polygon points="2371.29,230.51 2377.79,243.51 2364.79,243.51" fill="#7f7f7f" stroke="#fff" stroke-width="1.6"/>
<polygon points="2416.92,258.71 2423.42,271.71 2410.42,271.71" fill="#7f7f7f" stroke="#fff" stroke-width="1.6"/>
<polygon points="2462.55,287.36 2469.05,300.36 2456.05,300.36" fill="#7f7f7f" stroke="#fff" stroke-width="1.6"/>
<polygon points="2508.18,306.1 2514.68,319.1 2501.68,319.1" fill="#7f7f7f" stroke="#fff" stroke-width="1.6"/>
<polygon points="2553.81,341.67 2560.31,354.67 2547.31,354.67" fill="#7f7f7f" stroke="#fff" stroke-width="1.6"/>
<polygon points="2599.44,353.74 2605.94,366.74 2592.94,366.74" fill="#7f7f7f" stroke="#fff" stroke-width="1.6"/>
<polygon points="2645.07,390.58 2651.57,403.58 2638.57,403.58" fill="#7f7f7f" stroke="#fff" stroke-width="1.6"/>
<polygon points="2690.7,405.83 2697.2,418.83 2684.2,418.83" fill="#7f7f7f" stroke="#fff" stroke-width="1.6"/>
<polyline points="2238.96,137.79 2257.22,132.46 2280.03,142.81 2325.66,176.29 2371.29,188.74 2416.92,209.48 2462.55,231.71 2508.18,258.39 2553.81,284.97 2599.44,295.77 2645.07,312.6 2690.7,339.6" fill="none" stroke="#bcbd44" stroke-width="2.7" stroke-linejoin="round" stroke-linecap="round"/>
<polygon points="2238.96,144.29 2245.46,131.29 2232.46,131.29" fill="#bcbd44" stroke="#fff" stroke-width="1.6"/>
<polygon points="2257.22,138.96 2263.72,125.96 2250.72,125.96" fill="#bcbd44" stroke="#fff" stroke-width="1.6"/>
<polygon points="2280.03,149.31 2286.53,136.31 2273.53,136.31" fill="#bcbd44" stroke="#fff" stroke-width="1.6"/>
<polygon points="2325.66,182.79 2332.16,169.79 2319.16,169.79" fill="#bcbd44" stroke="#fff" stroke-width="1.6"/>
<polygon points="2371.29,195.24 2377.79,182.24 2364.79,182.24" fill="#bcbd44" stroke="#fff" stroke-width="1.6"/>
<polygon points="2416.92,215.98 2423.42,202.98 2410.42,202.98" fill="#bcbd44" stroke="#fff" stroke-width="1.6"/>
<polygon points="2462.55,238.21 2469.05,225.21 2456.05,225.21" fill="#bcbd44" stroke="#fff" stroke-width="1.6"/>
<polygon points="2508.18,264.89 2514.68,251.89 2501.68,251.89" fill="#bcbd44" stroke="#fff" stroke-width="1.6"/>
<polygon points="2553.81,291.47 2560.31,278.47 2547.31,278.47" fill="#bcbd44" stroke="#fff" stroke-width="1.6"/>
<polygon points="2599.44,302.27 2605.94,289.27 2592.94,289.27" fill="#bcbd44" stroke="#fff" stroke-width="1.6"/>
<polygon points="2645.07,319.1 2651.57,306.1 2638.57,306.1" fill="#bcbd44" stroke="#fff" stroke-width="1.6"/>
<polygon points="2690.7,346.1 2697.2,333.1 2684.2,333.1" fill="#bcbd44" stroke="#fff" stroke-width="1.6"/>
<polyline points="2238.96,128.9 2257.22,125.95 2280.03,131.89 2325.66,108.16 2371.29,138.97 2416.92,140.14 2462.55,144.59 2508.18,146.72 2553.81,153.17 2599.44,153.8 2645.07,159.71 2690.7,159.71" fill="none" stroke="#58b9cc" stroke-width="2.7" stroke-linejoin="round" stroke-linecap="round"/>
<polygon points="2232.46,128.9 2245.46,122.4 2245.46,135.4" fill="#58b9cc" stroke="#fff" stroke-width="1.6"/>
<polygon points="2250.72,125.95 2263.72,119.45 2263.72,132.45" fill="#58b9cc" stroke="#fff" stroke-width="1.6"/>
<polygon points="2273.53,131.89 2286.53,125.39 2286.53,138.39" fill="#58b9cc" stroke="#fff" stroke-width="1.6"/>
<polygon points="2319.16,108.16 2332.16,101.66 2332.16,114.66" fill="#58b9cc" stroke="#fff" stroke-width="1.6"/>
<polygon points="2364.79,138.97 2377.79,132.47 2377.79,145.47" fill="#58b9cc" stroke="#fff" stroke-width="1.6"/>
<polygon points="2410.42,140.14 2423.42,133.64 2423.42,146.64" fill="#58b9cc" stroke="#fff" stroke-width="1.6"/>
<polygon points="2456.05,144.59 2469.05,138.09 2469.05,151.09" fill="#58b9cc" stroke="#fff" stroke-width="1.6"/>
<polygon points="2501.68,146.72 2514.68,140.22 2514.68,153.22" fill="#58b9cc" stroke="#fff" stroke-width="1.6"/>
<polygon points="2547.31,153.17 2560.31,146.67 2560.31,159.67" fill="#58b9cc" stroke="#fff" stroke-width="1.6"/>
<polygon points="2592.94,153.8 2605.94,147.3 2605.94,160.3" fill="#58b9cc" stroke="#fff" stroke-width="1.6"/>
<polygon points="2638.57,159.71 2651.57,153.21 2651.57,166.21" fill="#58b9cc" stroke="#fff" stroke-width="1.6"/>
<polygon points="2684.2,159.71 2697.2,153.21 2697.2,166.21" fill="#58b9cc" stroke="#fff" stroke-width="1.6"/>
<path d="M2216.4 246.54H2713.2" stroke="#e8321f" stroke-width="4.8" stroke-dasharray="17 7.3" fill="none"/>
</g>
<rect x="2216.4" y="88.8" width="496.8" height="434.2" fill="none" stroke="#cccccc" stroke-width="2.1"/>
<text x="2197.8" y="130.3" font-size="27.7" text-anchor="end">40</text>
<text x="2197.8" y="193.82" font-size="27.7" text-anchor="end">20</text>
<text x="2197.8" y="257.34" font-size="27.7" text-anchor="end">0</text>
<text x="2197.8" y="320.86" font-size="27.7" text-anchor="end">−20</text>
<text x="2197.8" y="384.38" font-size="27.7" text-anchor="end">−40</text>
<text x="2197.8" y="447.9" font-size="27.7" text-anchor="end">−60</text>
<text x="2197.8" y="511.42" font-size="27.7" text-anchor="end">−80</text>
<text x="2234.4" y="563" font-size="27.7" text-anchor="middle">0</text>
<text x="2325.66" y="563" font-size="27.7" text-anchor="middle">20</text>
<text x="2416.92" y="563" font-size="27.7" text-anchor="middle">40</text>
<text x="2508.18" y="563" font-size="27.7" text-anchor="middle">60</text>
<text x="2599.44" y="563" font-size="27.7" text-anchor="middle">80</text>
<text x="2690.7" y="563" font-size="27.7" text-anchor="middle">100</text>
<text x="2464.8" y="599.1" font-size="27.7" text-anchor="middle">% copied samples</text>
<text transform="translate(2124.6 305.9) rotate(-90)" font-size="27.7" text-anchor="middle" font-family="DejaVu Sans, sans-serif" font-style="italic">C<tspan font-size="19.4" dy="4.3">T</tspan></text>
<rect x="47" y="24.4" width="2761.7" height="40.8" rx="4.5" fill="#fff" stroke="#cccccc" stroke-width="1.6"/>
<path d="M56.35 42.8H101.35" stroke="#3b75af" stroke-width="2.7" stroke-linecap="round" fill="none"/>
<circle cx="78.85" cy="42.8" r="6.6" fill="#3b75af" stroke="#fff" stroke-width="1.6"/>
<text x="120.2" y="51" font-size="23.0">None</text>
<path d="M228.45 42.8H273.45" stroke="#ed8735" stroke-width="2.7" stroke-linecap="round" fill="none"/>
<rect x="244.2" y="36.05" width="13.5" height="13.5" fill="#ed8735" stroke="#fff" stroke-width="1.6"/>
<text x="292.3" y="51" font-size="23.0">Posterize</text>
<path d="M445.05 42.8H490.05" stroke="#519e3e" stroke-width="2.7" stroke-linecap="round" fill="none"/>
<polygon points="467.55,33.1 477.25,42.8 467.55,52.5 457.85,42.8" fill="#519e3e" stroke="#fff" stroke-width="1.6"/>
<text x="508.9" y="51" font-size="23.0">Light Blur</text>
<path d="M674.05 42.8H719.05" stroke="#c53a33" stroke-width="2.7" stroke-linecap="round" fill="none"/>
<polygon points="696.55,33.4 702.25,42.8 696.55,52.2 690.85,42.8" fill="#c53a33" stroke="#fff" stroke-width="1.6"/>
<text x="737.9" y="51" font-size="23.0">Resize</text>
<path d="M859.25 42.8H904.25" stroke="#8b62b9" stroke-width="2.7" stroke-linecap="round" fill="none"/>
<polygon points="881.75,37.2 883.1,40.94 887.08,41.07 883.94,43.51 885.04,47.33 881.75,45.1 878.46,47.33 879.56,43.51 876.42,41.07 880.4,40.94" fill="#8b62b9" stroke="#fff" stroke-width="1.0"/>
<text x="923.1" y="51" font-size="23.0">JPG 90</text>
<path d="M1050.05 42.8H1095.05" stroke="#84584e" stroke-width="2.7" stroke-linecap="round" fill="none"/>
<path d="M1066.05 42.8H1079.05M1072.55 36.3V49.3" stroke="#fff" stroke-width="1.6" fill="none"/>
<text x="1113.9" y="51" font-size="23.0">Center Crop 30</text>
<path d="M1340.05 42.8H1385.05" stroke="#d57ebf" stroke-width="2.7" stroke-linecap="round" fill="none"/>
<path d="M1362.55 36.3V49.3" stroke="#fff" stroke-width="1.6" fill="none"/>
<text x="1403.9" y="51" font-size="23.0">JPG 75</text>
<path d="M1529.45 42.8H1574.45" stroke="#7f7f7f" stroke-width="2.7" stroke-linecap="round" fill="none"/>
<polygon points="1551.95,36.3 1558.45,49.3 1545.45,49.3" fill="#7f7f7f" stroke="#fff" stroke-width="1.6"/>
<text x="1593.3" y="51" font-size="23.0">Color Distort</text>
<path d="M1791.15 42.8H1836.15" stroke="#bcbd44" stroke-width="2.7" stroke-linecap="round" fill="none"/>
<polygon points="1813.65,49.3 1820.15,36.3 1807.15,36.3" fill="#bcbd44" stroke="#fff" stroke-width="1.6"/>
<text x="1855" y="51" font-size="23.0">Center Crop 28</text>
<path d="M2081.65 42.8H2126.65" stroke="#58b9cc" stroke-width="2.7" stroke-linecap="round" fill="none"/>
<polygon points="2097.65,42.8 2110.65,36.3 2110.65,49.3" fill="#58b9cc" stroke="#fff" stroke-width="1.6"/>
<text x="2145.5" y="51" font-size="23.0">Elastic Transform</text>
<path d="M2398.7 42.8H2441.2" stroke="#e8321f" stroke-width="4.8" stroke-dasharray="17 7.3" fill="none"/>
<text x="2463.9" y="51" font-size="23.0">Overfit line (below is overfit)</text>
</g>
<g font-family="Liberation Serif, Times New Roman, serif" fill="#000">
<text transform="translate(29.07 725.0) scale(1.0105 1)" font-size="71.3" stroke="#000" stroke-width="0.75">Figure</text>
<text transform="translate(235.85 725.0) scale(1.0881 1)" font-size="71.3" stroke="#000" stroke-width="0.75">7:</text>
<text transform="translate(327.79 725.0) scale(1.0131 1)" font-size="63.5" stroke="#000" stroke-width="0.75">Comparison</text>
<text transform="translate(664.38 725.0) scale(1.0660 1)" font-size="63.5" stroke="#000" stroke-width="0.75">of</text>
<text transform="translate(743.30 725.0) scale(0.9911 1)" font-size="63.5" stroke="#000" stroke-width="0.75">various</text>
<text transform="translate(949.12 725.0) scale(0.9997 1)" font-size="63.5" stroke="#000" stroke-width="0.75">overfitting</text>
<text transform="translate(1238.10 725.0) scale(1.0113 1)" font-size="63.5" stroke="#000" stroke-width="0.75">metrics</text>
<text transform="translate(1451.00 725.0) scale(0.9975 1)" font-size="63.5" stroke="#000" stroke-width="0.75">when</text>
<text transform="translate(1743.78 725.0) scale(1.0196 1)" font-size="63.5" stroke="#000" stroke-width="0.75">consists</text>
<text transform="translate(1969.21 725.0) scale(1.1048 1)" font-size="63.5" stroke="#000" stroke-width="0.75">of</text>
<text transform="translate(2044.01 725.0) scale(1.0544 1)" font-size="63.5" stroke="#000" stroke-width="0.75">a</text>
<text transform="translate(2092.99 725.0) scale(1.0147 1)" font-size="63.5" stroke="#000" stroke-width="0.75">combination</text>
<text transform="translate(2437.46 725.0) scale(1.0796 1)" font-size="63.5" stroke="#000" stroke-width="0.75">of</text>
<text transform="translate(2514.30 725.0) scale(1.0098 1)" font-size="63.5" stroke="#000" stroke-width="0.75">transformed</text>
<text transform="translate(29.63 794.7) scale(0.9947 1)" font-size="63.5" stroke="#000" stroke-width="0.75">generated</text>
<text transform="translate(291.73 794.7) scale(0.9925 1)" font-size="63.5" stroke="#000" stroke-width="0.75">samples</text>
<text transform="translate(510.72 794.7) scale(0.9989 1)" font-size="63.5" stroke="#000" stroke-width="0.75">and</text>
<text transform="translate(620.80 794.7) scale(0.9876 1)" font-size="63.5" stroke="#000" stroke-width="0.75">transformed</text>
<text transform="translate(939.42 794.7) scale(0.9953 1)" font-size="63.5" stroke="#000" stroke-width="0.75">copies</text>
<text transform="translate(1117.52 794.7) scale(0.9478 1)" font-size="63.5" stroke="#000" stroke-width="0.75">of</text>
<text transform="translate(1187.30 794.7) scale(0.9989 1)" font-size="63.5" stroke="#000" stroke-width="0.75">the</text>
<text transform="translate(1279.50 794.7) scale(0.9926 1)" font-size="63.5" stroke="#000" stroke-width="0.75">train</text>
<text transform="translate(1411.51 794.7) scale(1.0005 1)" font-size="63.5" stroke="#000" stroke-width="0.75">set.</text>
<text x="1607.95" y="725.2" font-size="62.3" font-family="Latin Modern Math, DejaVu Math TeX Gyre, serif" stroke="#000" stroke-width="1.6">&#x1D49F;</text>
<text transform="translate(1659.78 732.0) scale(0.9556 1)" font-size="44.3" stroke="#000" stroke-width="0.75">gen</text>
</g>
</svg>
</body></html>
